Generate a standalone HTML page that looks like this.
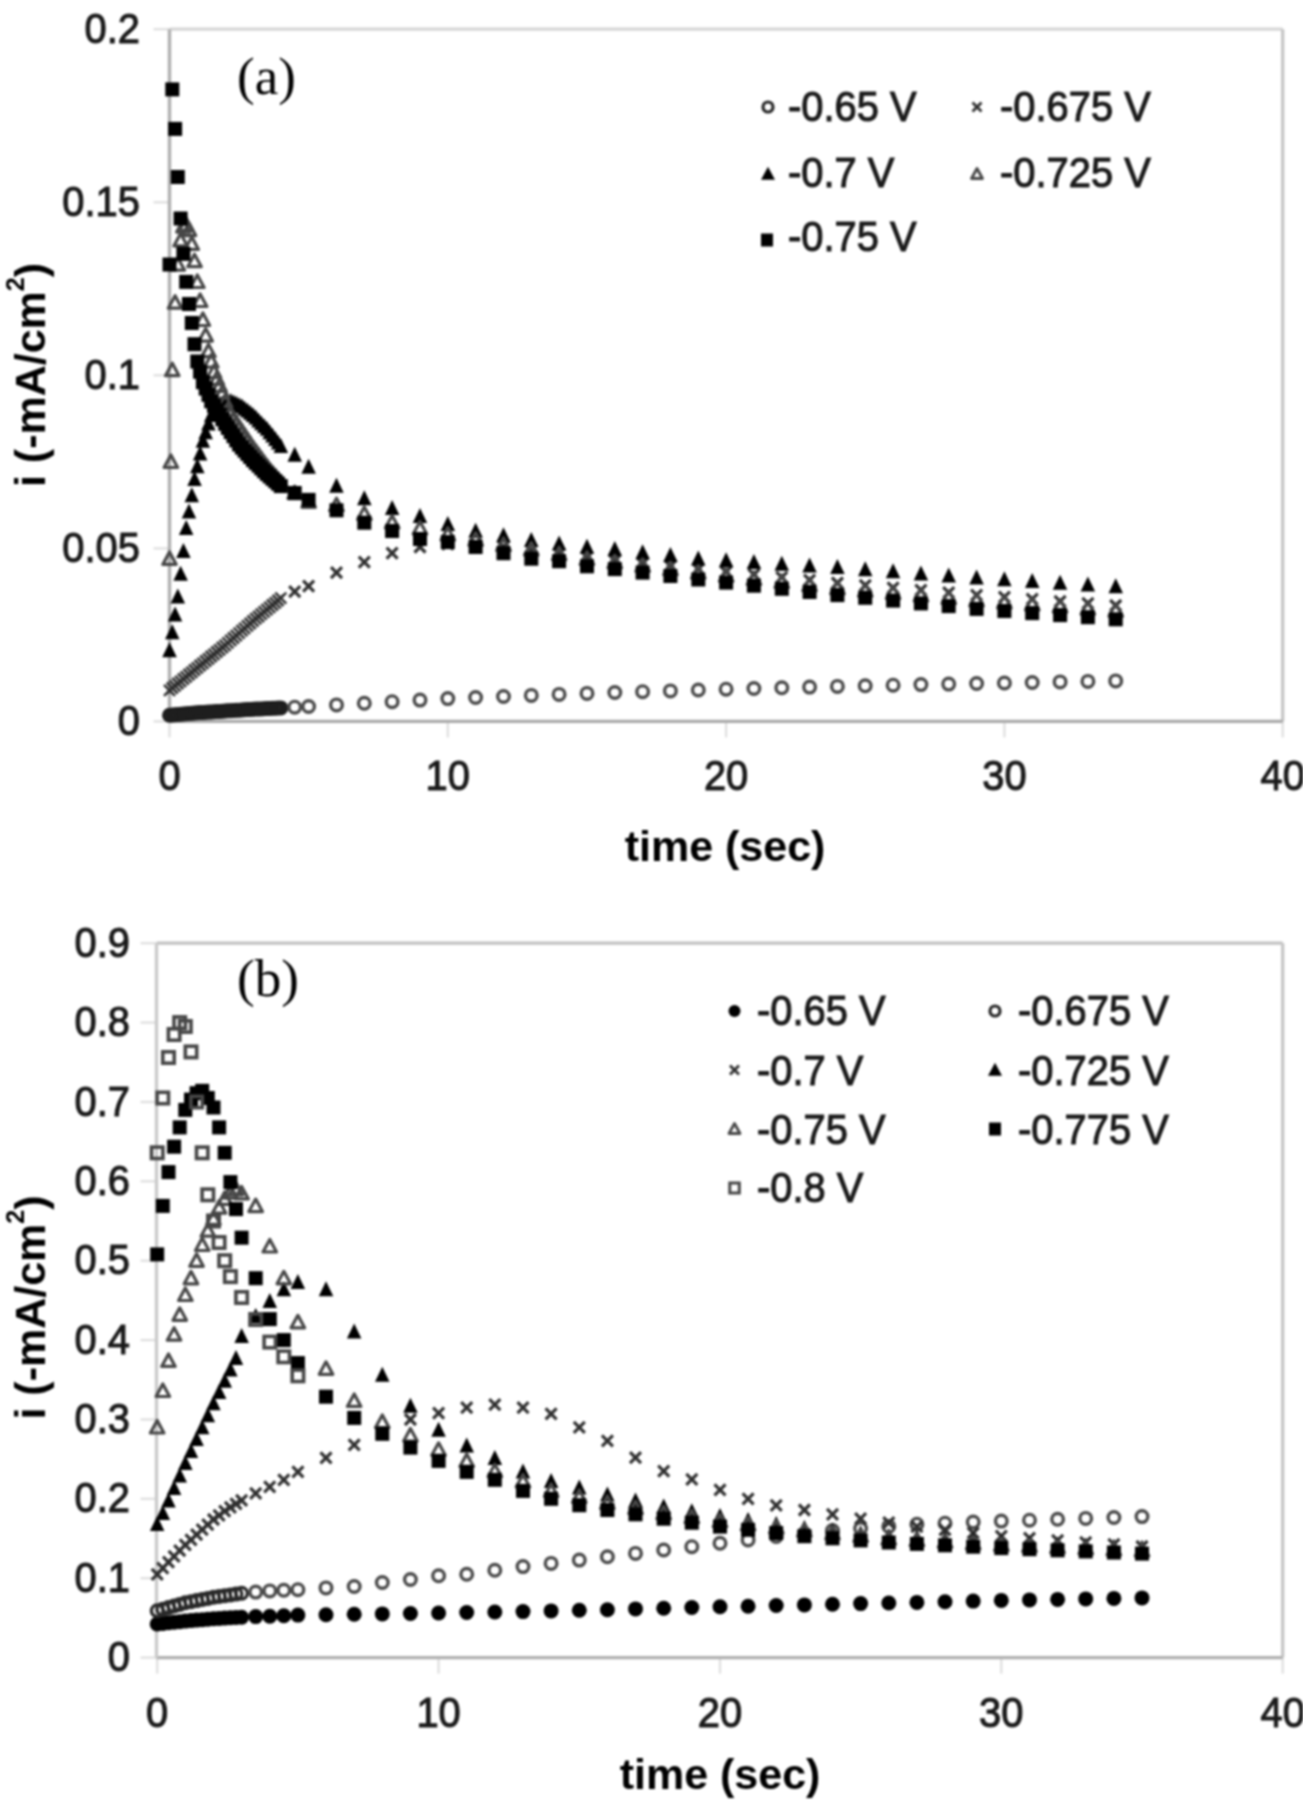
<!DOCTYPE html>
<html><head><meta charset="utf-8"><title>chart</title>
<style>
html,body{margin:0;padding:0;background:#fff;}
body{width:1303px;height:1800px;overflow:hidden;}
svg{display:block;filter:blur(1.0px);}
</style></head>
<body>
<svg width="1303" height="1800" viewBox="0 0 1303 1800"><rect width="1303" height="1800" fill="#fff"/><line x1="169.5" y1="29.2" x2="1282.7" y2="29.2" stroke="#d6d6d6" stroke-width="3.2"/><line x1="1282.7" y1="29.2" x2="1282.7" y2="721.4" stroke="#c4c4c4" stroke-width="3.2"/><line x1="153.5" y1="721.4" x2="169.5" y2="721.4" stroke="#dedede" stroke-width="2.2"/><line x1="153.5" y1="548.4" x2="169.5" y2="548.4" stroke="#dedede" stroke-width="2.2"/><line x1="153.5" y1="375.3" x2="169.5" y2="375.3" stroke="#dedede" stroke-width="2.2"/><line x1="153.5" y1="202.3" x2="169.5" y2="202.3" stroke="#dedede" stroke-width="2.2"/><line x1="153.5" y1="29.2" x2="169.5" y2="29.2" stroke="#dedede" stroke-width="2.2"/><line x1="169.5" y1="721.4" x2="169.5" y2="737.4" stroke="#dedede" stroke-width="2.2"/><line x1="447.8" y1="721.4" x2="447.8" y2="737.4" stroke="#dedede" stroke-width="2.2"/><line x1="726.1" y1="721.4" x2="726.1" y2="737.4" stroke="#dedede" stroke-width="2.2"/><line x1="1004.4" y1="721.4" x2="1004.4" y2="737.4" stroke="#dedede" stroke-width="2.2"/><line x1="1282.7" y1="721.4" x2="1282.7" y2="737.4" stroke="#dedede" stroke-width="2.2"/><line x1="169.5" y1="721.4" x2="1282.7" y2="721.4" stroke="#aaaaaa" stroke-width="3.4"/><line x1="169.5" y1="29.2" x2="169.5" y2="721.4" stroke="#b0b0b0" stroke-width="3.4"/><text transform="translate(140,734.9) scale(0.95,1)" text-anchor="end" fill="#1a1a1a" stroke="#1a1a1a" stroke-width="1.1" style="font-family:&quot;Liberation Sans&quot;,sans-serif;font-size:42px">0</text><text transform="translate(140,561.9) scale(0.95,1)" text-anchor="end" fill="#1a1a1a" stroke="#1a1a1a" stroke-width="1.1" style="font-family:&quot;Liberation Sans&quot;,sans-serif;font-size:42px">0.05</text><text transform="translate(140,388.8) scale(0.95,1)" text-anchor="end" fill="#1a1a1a" stroke="#1a1a1a" stroke-width="1.1" style="font-family:&quot;Liberation Sans&quot;,sans-serif;font-size:42px">0.1</text><text transform="translate(140,215.8) scale(0.95,1)" text-anchor="end" fill="#1a1a1a" stroke="#1a1a1a" stroke-width="1.1" style="font-family:&quot;Liberation Sans&quot;,sans-serif;font-size:42px">0.15</text><text transform="translate(140,42.7) scale(0.95,1)" text-anchor="end" fill="#1a1a1a" stroke="#1a1a1a" stroke-width="1.1" style="font-family:&quot;Liberation Sans&quot;,sans-serif;font-size:42px">0.2</text><text transform="translate(169.5,790) scale(0.95,1)" text-anchor="middle" fill="#1a1a1a" stroke="#1a1a1a" stroke-width="1.1" style="font-family:&quot;Liberation Sans&quot;,sans-serif;font-size:42px">0</text><text transform="translate(447.8,790) scale(0.95,1)" text-anchor="middle" fill="#1a1a1a" stroke="#1a1a1a" stroke-width="1.1" style="font-family:&quot;Liberation Sans&quot;,sans-serif;font-size:42px">10</text><text transform="translate(726.1,790) scale(0.95,1)" text-anchor="middle" fill="#1a1a1a" stroke="#1a1a1a" stroke-width="1.1" style="font-family:&quot;Liberation Sans&quot;,sans-serif;font-size:42px">20</text><text transform="translate(1004.4,790) scale(0.95,1)" text-anchor="middle" fill="#1a1a1a" stroke="#1a1a1a" stroke-width="1.1" style="font-family:&quot;Liberation Sans&quot;,sans-serif;font-size:42px">30</text><text transform="translate(1282.7,790) scale(0.95,1)" text-anchor="middle" fill="#1a1a1a" stroke="#1a1a1a" stroke-width="1.1" style="font-family:&quot;Liberation Sans&quot;,sans-serif;font-size:42px">40</text><g><circle cx="169.5" cy="715.2" r="5.8" fill="none" stroke="#1e1e1e" stroke-width="3.4"/><circle cx="172.3" cy="714.9" r="5.8" fill="none" stroke="#1e1e1e" stroke-width="3.4"/><circle cx="175.1" cy="714.7" r="5.8" fill="none" stroke="#1e1e1e" stroke-width="3.4"/><circle cx="177.8" cy="714.4" r="5.8" fill="none" stroke="#1e1e1e" stroke-width="3.4"/><circle cx="180.6" cy="714.2" r="5.8" fill="none" stroke="#1e1e1e" stroke-width="3.4"/><circle cx="183.4" cy="714.0" r="5.8" fill="none" stroke="#1e1e1e" stroke-width="3.4"/><circle cx="186.2" cy="713.7" r="5.8" fill="none" stroke="#1e1e1e" stroke-width="3.4"/><circle cx="189.0" cy="713.5" r="5.8" fill="none" stroke="#1e1e1e" stroke-width="3.4"/><circle cx="191.8" cy="713.2" r="5.8" fill="none" stroke="#1e1e1e" stroke-width="3.4"/><circle cx="194.5" cy="713.0" r="5.8" fill="none" stroke="#1e1e1e" stroke-width="3.4"/><circle cx="197.3" cy="712.7" r="5.8" fill="none" stroke="#1e1e1e" stroke-width="3.4"/><circle cx="200.1" cy="712.6" r="5.8" fill="none" stroke="#1e1e1e" stroke-width="3.4"/><circle cx="202.9" cy="712.4" r="5.8" fill="none" stroke="#1e1e1e" stroke-width="3.4"/><circle cx="205.7" cy="712.2" r="5.8" fill="none" stroke="#1e1e1e" stroke-width="3.4"/><circle cx="208.5" cy="712.1" r="5.8" fill="none" stroke="#1e1e1e" stroke-width="3.4"/><circle cx="211.2" cy="711.9" r="5.8" fill="none" stroke="#1e1e1e" stroke-width="3.4"/><circle cx="214.0" cy="711.7" r="5.8" fill="none" stroke="#1e1e1e" stroke-width="3.4"/><circle cx="216.8" cy="711.5" r="5.8" fill="none" stroke="#1e1e1e" stroke-width="3.4"/><circle cx="219.6" cy="711.4" r="5.8" fill="none" stroke="#1e1e1e" stroke-width="3.4"/><circle cx="222.4" cy="711.2" r="5.8" fill="none" stroke="#1e1e1e" stroke-width="3.4"/><circle cx="225.2" cy="711.0" r="5.8" fill="none" stroke="#1e1e1e" stroke-width="3.4"/><circle cx="227.9" cy="710.8" r="5.8" fill="none" stroke="#1e1e1e" stroke-width="3.4"/><circle cx="230.7" cy="710.7" r="5.8" fill="none" stroke="#1e1e1e" stroke-width="3.4"/><circle cx="233.5" cy="710.5" r="5.8" fill="none" stroke="#1e1e1e" stroke-width="3.4"/><circle cx="236.3" cy="710.3" r="5.8" fill="none" stroke="#1e1e1e" stroke-width="3.4"/><circle cx="239.1" cy="710.2" r="5.8" fill="none" stroke="#1e1e1e" stroke-width="3.4"/><circle cx="241.9" cy="710.0" r="5.8" fill="none" stroke="#1e1e1e" stroke-width="3.4"/><circle cx="244.6" cy="709.8" r="5.8" fill="none" stroke="#1e1e1e" stroke-width="3.4"/><circle cx="247.4" cy="709.6" r="5.8" fill="none" stroke="#1e1e1e" stroke-width="3.4"/><circle cx="250.2" cy="709.5" r="5.8" fill="none" stroke="#1e1e1e" stroke-width="3.4"/><circle cx="253.0" cy="709.3" r="5.8" fill="none" stroke="#1e1e1e" stroke-width="3.4"/><circle cx="255.8" cy="709.1" r="5.8" fill="none" stroke="#1e1e1e" stroke-width="3.4"/><circle cx="258.6" cy="709.0" r="5.8" fill="none" stroke="#1e1e1e" stroke-width="3.4"/><circle cx="261.3" cy="708.9" r="5.8" fill="none" stroke="#1e1e1e" stroke-width="3.4"/><circle cx="264.1" cy="708.7" r="5.8" fill="none" stroke="#1e1e1e" stroke-width="3.4"/><circle cx="266.9" cy="708.6" r="5.8" fill="none" stroke="#1e1e1e" stroke-width="3.4"/><circle cx="269.7" cy="708.5" r="5.8" fill="none" stroke="#1e1e1e" stroke-width="3.4"/><circle cx="272.5" cy="708.3" r="5.8" fill="none" stroke="#1e1e1e" stroke-width="3.4"/><circle cx="275.3" cy="708.2" r="5.8" fill="none" stroke="#1e1e1e" stroke-width="3.4"/><circle cx="278.0" cy="708.0" r="5.8" fill="none" stroke="#1e1e1e" stroke-width="3.4"/><circle cx="280.8" cy="707.9" r="5.8" fill="none" stroke="#1e1e1e" stroke-width="3.4"/><circle cx="294.7" cy="707.2" r="5.8" fill="none" stroke="#4a4a4a" stroke-width="3.4"/><circle cx="308.6" cy="706.5" r="5.8" fill="none" stroke="#4a4a4a" stroke-width="3.4"/><circle cx="336.5" cy="704.9" r="5.8" fill="none" stroke="#4a4a4a" stroke-width="3.4"/><circle cx="364.3" cy="703.3" r="5.8" fill="none" stroke="#4a4a4a" stroke-width="3.4"/><circle cx="392.1" cy="701.7" r="5.8" fill="none" stroke="#4a4a4a" stroke-width="3.4"/><circle cx="420.0" cy="700.1" r="5.8" fill="none" stroke="#4a4a4a" stroke-width="3.4"/><circle cx="447.8" cy="698.6" r="5.8" fill="none" stroke="#4a4a4a" stroke-width="3.4"/><circle cx="475.6" cy="697.5" r="5.8" fill="none" stroke="#4a4a4a" stroke-width="3.4"/><circle cx="503.5" cy="696.5" r="5.8" fill="none" stroke="#4a4a4a" stroke-width="3.4"/><circle cx="531.3" cy="695.4" r="5.8" fill="none" stroke="#4a4a4a" stroke-width="3.4"/><circle cx="559.1" cy="694.4" r="5.8" fill="none" stroke="#4a4a4a" stroke-width="3.4"/><circle cx="587.0" cy="693.4" r="5.8" fill="none" stroke="#4a4a4a" stroke-width="3.4"/><circle cx="614.8" cy="692.5" r="5.8" fill="none" stroke="#4a4a4a" stroke-width="3.4"/><circle cx="642.6" cy="691.7" r="5.8" fill="none" stroke="#4a4a4a" stroke-width="3.4"/><circle cx="670.4" cy="690.9" r="5.8" fill="none" stroke="#4a4a4a" stroke-width="3.4"/><circle cx="698.3" cy="690.0" r="5.8" fill="none" stroke="#4a4a4a" stroke-width="3.4"/><circle cx="726.1" cy="689.2" r="5.8" fill="none" stroke="#4a4a4a" stroke-width="3.4"/><circle cx="753.9" cy="688.5" r="5.8" fill="none" stroke="#4a4a4a" stroke-width="3.4"/><circle cx="781.8" cy="687.8" r="5.8" fill="none" stroke="#4a4a4a" stroke-width="3.4"/><circle cx="809.6" cy="687.1" r="5.8" fill="none" stroke="#4a4a4a" stroke-width="3.4"/><circle cx="837.4" cy="686.4" r="5.8" fill="none" stroke="#4a4a4a" stroke-width="3.4"/><circle cx="865.2" cy="685.8" r="5.8" fill="none" stroke="#4a4a4a" stroke-width="3.4"/><circle cx="893.1" cy="685.2" r="5.8" fill="none" stroke="#4a4a4a" stroke-width="3.4"/><circle cx="920.9" cy="684.6" r="5.8" fill="none" stroke="#4a4a4a" stroke-width="3.4"/><circle cx="948.7" cy="684.1" r="5.8" fill="none" stroke="#4a4a4a" stroke-width="3.4"/><circle cx="976.6" cy="683.5" r="5.8" fill="none" stroke="#4a4a4a" stroke-width="3.4"/><circle cx="1004.4" cy="683.0" r="5.8" fill="none" stroke="#4a4a4a" stroke-width="3.4"/><circle cx="1032.2" cy="682.5" r="5.8" fill="none" stroke="#4a4a4a" stroke-width="3.4"/><circle cx="1060.1" cy="681.9" r="5.8" fill="none" stroke="#4a4a4a" stroke-width="3.4"/><circle cx="1087.9" cy="681.4" r="5.8" fill="none" stroke="#4a4a4a" stroke-width="3.4"/><circle cx="1115.7" cy="680.9" r="5.8" fill="none" stroke="#4a4a4a" stroke-width="3.4"/><path d="M164.0 684.8L175.0 695.8M175.0 684.8L164.0 695.8" stroke="#303030" stroke-width="2.5" fill="none"/><path d="M166.8 682.5L177.8 693.5M177.8 682.5L166.8 693.5" stroke="#303030" stroke-width="2.5" fill="none"/><path d="M169.6 680.3L180.6 691.3M180.6 680.3L169.6 691.3" stroke="#303030" stroke-width="2.5" fill="none"/><path d="M172.3 678.0L183.3 689.0M183.3 678.0L172.3 689.0" stroke="#303030" stroke-width="2.5" fill="none"/><path d="M175.1 675.8L186.1 686.8M186.1 675.8L175.1 686.8" stroke="#303030" stroke-width="2.5" fill="none"/><path d="M177.9 673.5L188.9 684.5M188.9 673.5L177.9 684.5" stroke="#303030" stroke-width="2.5" fill="none"/><path d="M180.7 671.3L191.7 682.3M191.7 671.3L180.7 682.3" stroke="#303030" stroke-width="2.5" fill="none"/><path d="M183.5 669.0L194.5 680.0M194.5 669.0L183.5 680.0" stroke="#303030" stroke-width="2.5" fill="none"/><path d="M186.3 666.8L197.3 677.8M197.3 666.8L186.3 677.8" stroke="#303030" stroke-width="2.5" fill="none"/><path d="M189.0 664.5L200.0 675.5M200.0 664.5L189.0 675.5" stroke="#303030" stroke-width="2.5" fill="none"/><path d="M191.8 662.3L202.8 673.3M202.8 662.3L191.8 673.3" stroke="#303030" stroke-width="2.5" fill="none"/><path d="M194.6 660.0L205.6 671.0M205.6 660.0L194.6 671.0" stroke="#303030" stroke-width="2.5" fill="none"/><path d="M197.4 657.8L208.4 668.8M208.4 657.8L197.4 668.8" stroke="#303030" stroke-width="2.5" fill="none"/><path d="M200.2 655.5L211.2 666.5M211.2 655.5L200.2 666.5" stroke="#303030" stroke-width="2.5" fill="none"/><path d="M203.0 653.3L214.0 664.3M214.0 653.3L203.0 664.3" stroke="#303030" stroke-width="2.5" fill="none"/><path d="M205.7 651.0L216.7 662.0M216.7 651.0L205.7 662.0" stroke="#303030" stroke-width="2.5" fill="none"/><path d="M208.5 648.8L219.5 659.8M219.5 648.8L208.5 659.8" stroke="#303030" stroke-width="2.5" fill="none"/><path d="M211.3 646.5L222.3 657.5M222.3 646.5L211.3 657.5" stroke="#303030" stroke-width="2.5" fill="none"/><path d="M214.1 644.3L225.1 655.3M225.1 644.3L214.1 655.3" stroke="#303030" stroke-width="2.5" fill="none"/><path d="M216.9 642.0L227.9 653.0M227.9 642.0L216.9 653.0" stroke="#303030" stroke-width="2.5" fill="none"/><path d="M219.7 639.8L230.7 650.8M230.7 639.8L219.7 650.8" stroke="#303030" stroke-width="2.5" fill="none"/><path d="M222.4 637.3L233.4 648.3M233.4 637.3L222.4 648.3" stroke="#303030" stroke-width="2.5" fill="none"/><path d="M225.2 634.9L236.2 645.9M236.2 634.9L225.2 645.9" stroke="#303030" stroke-width="2.5" fill="none"/><path d="M228.0 632.5L239.0 643.5M239.0 632.5L228.0 643.5" stroke="#303030" stroke-width="2.5" fill="none"/><path d="M230.8 630.1L241.8 641.1M241.8 630.1L230.8 641.1" stroke="#303030" stroke-width="2.5" fill="none"/><path d="M233.6 627.6L244.6 638.6M244.6 627.6L233.6 638.6" stroke="#303030" stroke-width="2.5" fill="none"/><path d="M236.4 625.2L247.4 636.2M247.4 625.2L236.4 636.2" stroke="#303030" stroke-width="2.5" fill="none"/><path d="M239.1 622.8L250.1 633.8M250.1 622.8L239.1 633.8" stroke="#303030" stroke-width="2.5" fill="none"/><path d="M241.9 620.4L252.9 631.4M252.9 620.4L241.9 631.4" stroke="#303030" stroke-width="2.5" fill="none"/><path d="M244.7 618.0L255.7 629.0M255.7 618.0L244.7 629.0" stroke="#303030" stroke-width="2.5" fill="none"/><path d="M247.5 615.5L258.5 626.5M258.5 615.5L247.5 626.5" stroke="#303030" stroke-width="2.5" fill="none"/><path d="M250.3 613.2L261.3 624.2M261.3 613.2L250.3 624.2" stroke="#303030" stroke-width="2.5" fill="none"/><path d="M253.1 611.0L264.1 622.0M264.1 611.0L253.1 622.0" stroke="#303030" stroke-width="2.5" fill="none"/><path d="M255.8 608.7L266.8 619.7M266.8 608.7L255.8 619.7" stroke="#303030" stroke-width="2.5" fill="none"/><path d="M258.6 606.4L269.6 617.4M269.6 606.4L258.6 617.4" stroke="#303030" stroke-width="2.5" fill="none"/><path d="M261.4 604.1L272.4 615.1M272.4 604.1L261.4 615.1" stroke="#303030" stroke-width="2.5" fill="none"/><path d="M264.2 601.8L275.2 612.8M275.2 601.8L264.2 612.8" stroke="#303030" stroke-width="2.5" fill="none"/><path d="M267.0 599.5L278.0 610.5M278.0 599.5L267.0 610.5" stroke="#303030" stroke-width="2.5" fill="none"/><path d="M269.8 597.3L280.8 608.3M280.8 597.3L269.8 608.3" stroke="#303030" stroke-width="2.5" fill="none"/><path d="M272.5 595.0L283.5 606.0M283.5 595.0L272.5 606.0" stroke="#303030" stroke-width="2.5" fill="none"/><path d="M275.3 592.7L286.3 603.7M286.3 592.7L275.3 603.7" stroke="#303030" stroke-width="2.5" fill="none"/><path d="M289.2 586.1L300.2 597.1M300.2 586.1L289.2 597.1" stroke="#303030" stroke-width="3.2" fill="none"/><path d="M303.1 580.6L314.1 591.6M314.1 580.6L303.1 591.6" stroke="#303030" stroke-width="3.2" fill="none"/><path d="M331.0 567.1L342.0 578.1M342.0 567.1L331.0 578.1" stroke="#303030" stroke-width="3.2" fill="none"/><path d="M358.8 556.7L369.8 567.7M369.8 556.7L358.8 567.7" stroke="#303030" stroke-width="3.2" fill="none"/><path d="M386.6 547.7L397.6 558.7M397.6 547.7L386.6 558.7" stroke="#303030" stroke-width="3.2" fill="none"/><path d="M414.5 541.5L425.5 552.5M425.5 541.5L414.5 552.5" stroke="#303030" stroke-width="3.2" fill="none"/><path d="M442.3 538.7L453.3 549.7M453.3 538.7L442.3 549.7" stroke="#303030" stroke-width="3.2" fill="none"/><path d="M470.1 538.7L481.1 549.7M481.1 538.7L470.1 549.7" stroke="#303030" stroke-width="3.2" fill="none"/><path d="M498.0 541.1L509.0 552.1M509.0 541.1L498.0 552.1" stroke="#303030" stroke-width="3.2" fill="none"/><path d="M525.8 544.6L536.8 555.6M536.8 544.6L525.8 555.6" stroke="#303030" stroke-width="3.2" fill="none"/><path d="M553.6 548.0L564.6 559.0M564.6 548.0L553.6 559.0" stroke="#303030" stroke-width="3.2" fill="none"/><path d="M581.5 551.5L592.5 562.5M592.5 551.5L581.5 562.5" stroke="#303030" stroke-width="3.2" fill="none"/><path d="M609.3 555.0L620.3 566.0M620.3 555.0L609.3 566.0" stroke="#303030" stroke-width="3.2" fill="none"/><path d="M637.1 557.8L648.1 568.8M648.1 557.8L637.1 568.8" stroke="#303030" stroke-width="3.2" fill="none"/><path d="M664.9 560.7L675.9 571.7M675.9 560.7L664.9 571.7" stroke="#303030" stroke-width="3.2" fill="none"/><path d="M692.8 563.6L703.8 574.6M703.8 563.6L692.8 574.6" stroke="#303030" stroke-width="3.2" fill="none"/><path d="M720.6 566.4L731.6 577.4M731.6 566.4L720.6 577.4" stroke="#303030" stroke-width="3.2" fill="none"/><path d="M748.4 569.2L759.4 580.2M759.4 569.2L748.4 580.2" stroke="#303030" stroke-width="3.2" fill="none"/><path d="M776.3 571.9L787.3 582.9M787.3 571.9L776.3 582.9" stroke="#303030" stroke-width="3.2" fill="none"/><path d="M804.1 574.7L815.1 585.7M815.1 574.7L804.1 585.7" stroke="#303030" stroke-width="3.2" fill="none"/><path d="M831.9 577.5L842.9 588.5M842.9 577.5L831.9 588.5" stroke="#303030" stroke-width="3.2" fill="none"/><path d="M859.8 579.9L870.8 590.9M870.8 579.9L859.8 590.9" stroke="#303030" stroke-width="3.2" fill="none"/><path d="M887.6 582.3L898.6 593.3M898.6 582.3L887.6 593.3" stroke="#303030" stroke-width="3.2" fill="none"/><path d="M915.4 584.7L926.4 595.7M926.4 584.7L915.4 595.7" stroke="#303030" stroke-width="3.2" fill="none"/><path d="M943.2 587.2L954.2 598.2M954.2 587.2L943.2 598.2" stroke="#303030" stroke-width="3.2" fill="none"/><path d="M971.1 589.6L982.1 600.6M982.1 589.6L971.1 600.6" stroke="#303030" stroke-width="3.2" fill="none"/><path d="M998.9 591.7L1009.9 602.7M1009.9 591.7L998.9 602.7" stroke="#303030" stroke-width="3.2" fill="none"/><path d="M1026.7 593.7L1037.7 604.7M1037.7 593.7L1026.7 604.7" stroke="#303030" stroke-width="3.2" fill="none"/><path d="M1054.6 595.8L1065.6 606.8M1065.6 595.8L1054.6 606.8" stroke="#303030" stroke-width="3.2" fill="none"/><path d="M1082.4 597.9L1093.4 608.9M1093.4 597.9L1082.4 608.9" stroke="#303030" stroke-width="3.2" fill="none"/><path d="M1110.2 600.0L1121.2 611.0M1121.2 600.0L1110.2 611.0" stroke="#303030" stroke-width="3.2" fill="none"/><path d="M169.5 642.2L176.8 657.2L162.2 657.2Z" fill="#000"/><path d="M172.3 624.3L179.5 639.3L165.0 639.3Z" fill="#000"/><path d="M175.1 606.4L182.3 621.4L167.8 621.4Z" fill="#000"/><path d="M177.8 588.6L185.1 603.6L170.6 603.6Z" fill="#000"/><path d="M180.6 565.7L187.9 580.7L173.4 580.7Z" fill="#000"/><path d="M183.4 542.9L190.7 557.9L176.2 557.9Z" fill="#000"/><path d="M186.2 520.0L193.4 535.0L178.9 535.0Z" fill="#000"/><path d="M189.0 503.6L196.2 518.6L181.7 518.6Z" fill="#000"/><path d="M191.8 487.3L199.0 502.3L184.5 502.3Z" fill="#000"/><path d="M194.5 470.9L201.8 485.9L187.3 485.9Z" fill="#000"/><path d="M197.3 458.2L204.6 473.2L190.1 473.2Z" fill="#000"/><path d="M200.1 445.5L207.4 460.5L192.9 460.5Z" fill="#000"/><path d="M202.9 432.8L210.1 447.8L195.6 447.8Z" fill="#000"/><path d="M205.7 424.2L212.9 439.2L198.4 439.2Z" fill="#000"/><path d="M208.5 415.5L215.7 430.5L201.2 430.5Z" fill="#000"/><path d="M211.2 406.9L218.5 421.9L204.0 421.9Z" fill="#000"/><path d="M214.0 403.4L221.3 418.4L206.8 418.4Z" fill="#000"/><path d="M216.8 399.9L224.1 414.9L209.6 414.9Z" fill="#000"/><path d="M219.6 396.5L226.8 411.5L212.3 411.5Z" fill="#000"/><path d="M222.4 395.6L229.6 410.6L215.1 410.6Z" fill="#000"/><path d="M225.2 394.7L232.4 409.7L217.9 409.7Z" fill="#000"/><path d="M227.9 393.9L235.2 408.9L220.7 408.9Z" fill="#000"/><path d="M230.7 393.0L238.0 408.0L223.5 408.0Z" fill="#000"/><path d="M233.5 394.3L240.8 409.3L226.3 409.3Z" fill="#000"/><path d="M236.3 395.6L243.5 410.6L229.0 410.6Z" fill="#000"/><path d="M239.1 396.9L246.3 411.9L231.8 411.9Z" fill="#000"/><path d="M241.9 398.2L249.1 413.2L234.6 413.2Z" fill="#000"/><path d="M244.6 400.4L251.9 415.4L237.4 415.4Z" fill="#000"/><path d="M247.4 402.5L254.7 417.5L240.2 417.5Z" fill="#000"/><path d="M250.2 404.7L257.5 419.7L243.0 419.7Z" fill="#000"/><path d="M253.0 406.9L260.2 421.9L245.7 421.9Z" fill="#000"/><path d="M255.8 409.6L263.0 424.6L248.5 424.6Z" fill="#000"/><path d="M258.6 412.4L265.8 427.4L251.3 427.4Z" fill="#000"/><path d="M261.3 415.2L268.6 430.2L254.1 430.2Z" fill="#000"/><path d="M264.1 417.9L271.4 432.9L256.9 432.9Z" fill="#000"/><path d="M266.9 420.7L274.2 435.7L259.7 435.7Z" fill="#000"/><path d="M269.7 424.2L276.9 439.2L262.4 439.2Z" fill="#000"/><path d="M272.5 427.6L279.7 442.6L265.2 442.6Z" fill="#000"/><path d="M275.3 431.1L282.5 446.1L268.0 446.1Z" fill="#000"/><path d="M278.0 434.5L285.3 449.5L270.8 449.5Z" fill="#000"/><path d="M280.8 438.0L288.1 453.0L273.6 453.0Z" fill="#000"/><path d="M294.7 446.7L302.0 461.7L287.5 461.7Z" fill="#000"/><path d="M308.6 458.8L315.9 473.8L301.4 473.8Z" fill="#000"/><path d="M336.5 477.8L343.7 492.8L329.2 492.8Z" fill="#000"/><path d="M364.3 490.3L371.6 505.3L357.1 505.3Z" fill="#000"/><path d="M392.1 500.0L399.4 515.0L384.9 515.0Z" fill="#000"/><path d="M420.0 507.9L427.2 522.9L412.7 522.9Z" fill="#000"/><path d="M447.8 515.9L455.1 530.9L440.6 530.9Z" fill="#000"/><path d="M475.6 522.8L482.9 537.8L468.4 537.8Z" fill="#000"/><path d="M503.5 527.3L510.7 542.3L496.2 542.3Z" fill="#000"/><path d="M531.3 532.1L538.5 547.1L524.0 547.1Z" fill="#000"/><path d="M559.1 535.6L566.4 550.6L551.9 550.6Z" fill="#000"/><path d="M587.0 538.7L594.2 553.7L579.7 553.7Z" fill="#000"/><path d="M614.8 541.1L622.0 556.1L607.5 556.1Z" fill="#000"/><path d="M642.6 544.3L649.9 559.3L635.4 559.3Z" fill="#000"/><path d="M670.4 547.0L677.7 562.0L663.2 562.0Z" fill="#000"/><path d="M698.3 550.5L705.5 565.5L691.0 565.5Z" fill="#000"/><path d="M726.1 552.2L733.4 567.2L718.9 567.2Z" fill="#000"/><path d="M753.9 553.9L761.2 568.9L746.7 568.9Z" fill="#000"/><path d="M781.8 555.7L789.0 570.7L774.5 570.7Z" fill="#000"/><path d="M809.6 557.4L816.8 572.4L802.3 572.4Z" fill="#000"/><path d="M837.4 559.1L844.7 574.1L830.2 574.1Z" fill="#000"/><path d="M865.2 561.2L872.5 576.2L858.0 576.2Z" fill="#000"/><path d="M893.1 563.3L900.3 578.3L885.8 578.3Z" fill="#000"/><path d="M920.9 565.4L928.2 580.4L913.7 580.4Z" fill="#000"/><path d="M948.7 567.4L956.0 582.4L941.5 582.4Z" fill="#000"/><path d="M976.6 569.5L983.8 584.5L969.3 584.5Z" fill="#000"/><path d="M1004.4 571.2L1011.6 586.2L997.1 586.2Z" fill="#000"/><path d="M1032.2 573.0L1039.5 588.0L1025.0 588.0Z" fill="#000"/><path d="M1060.1 574.7L1067.3 589.7L1052.8 589.7Z" fill="#000"/><path d="M1087.9 576.4L1095.1 591.4L1080.6 591.4Z" fill="#000"/><path d="M1115.7 578.2L1123.0 593.2L1108.5 593.2Z" fill="#000"/><path d="M169.5 551.9L176.2 564.4L162.8 564.4Z" fill="none" stroke="#474747" stroke-width="3.2" stroke-linejoin="round"/><path d="M172.3 363.2L179.0 375.7L165.5 375.7Z" fill="none" stroke="#474747" stroke-width="3.2" stroke-linejoin="round"/><path d="M175.1 295.7L181.8 308.2L168.3 308.2Z" fill="none" stroke="#474747" stroke-width="3.2" stroke-linejoin="round"/><path d="M177.8 257.7L184.6 270.2L171.1 270.2Z" fill="none" stroke="#474747" stroke-width="3.2" stroke-linejoin="round"/><path d="M180.6 233.4L187.4 245.9L173.9 245.9Z" fill="none" stroke="#474747" stroke-width="3.2" stroke-linejoin="round"/><path d="M183.4 219.6L190.2 232.1L176.7 232.1Z" fill="none" stroke="#474747" stroke-width="3.2" stroke-linejoin="round"/><path d="M186.2 217.9L192.9 230.4L179.4 230.4Z" fill="none" stroke="#474747" stroke-width="3.2" stroke-linejoin="round"/><path d="M189.0 223.1L195.7 235.6L182.2 235.6Z" fill="none" stroke="#474747" stroke-width="3.2" stroke-linejoin="round"/><path d="M191.8 236.9L198.5 249.4L185.0 249.4Z" fill="none" stroke="#474747" stroke-width="3.2" stroke-linejoin="round"/><path d="M194.5 254.2L201.3 266.7L187.8 266.7Z" fill="none" stroke="#474747" stroke-width="3.2" stroke-linejoin="round"/><path d="M197.3 275.0L204.1 287.5L190.6 287.5Z" fill="none" stroke="#474747" stroke-width="3.2" stroke-linejoin="round"/><path d="M200.1 294.0L206.9 306.5L193.4 306.5Z" fill="none" stroke="#474747" stroke-width="3.2" stroke-linejoin="round"/><path d="M202.9 313.0L209.6 325.5L196.1 325.5Z" fill="none" stroke="#474747" stroke-width="3.2" stroke-linejoin="round"/><path d="M205.7 328.6L212.4 341.1L198.9 341.1Z" fill="none" stroke="#474747" stroke-width="3.2" stroke-linejoin="round"/><path d="M208.5 344.2L215.2 356.7L201.7 356.7Z" fill="none" stroke="#474747" stroke-width="3.2" stroke-linejoin="round"/><path d="M211.2 354.6L218.0 367.1L204.5 367.1Z" fill="none" stroke="#474747" stroke-width="3.2" stroke-linejoin="round"/><path d="M214.0 365.0L220.8 377.5L207.3 377.5Z" fill="none" stroke="#474747" stroke-width="3.2" stroke-linejoin="round"/><path d="M216.8 371.9L223.6 384.4L210.1 384.4Z" fill="none" stroke="#474747" stroke-width="3.2" stroke-linejoin="round"/><path d="M219.6 378.8L226.3 391.3L212.8 391.3Z" fill="none" stroke="#474747" stroke-width="3.2" stroke-linejoin="round"/><path d="M222.4 385.7L229.1 398.2L215.6 398.2Z" fill="none" stroke="#474747" stroke-width="3.2" stroke-linejoin="round"/><path d="M225.2 394.4L231.9 406.9L218.4 406.9Z" fill="none" stroke="#474747" stroke-width="3.2" stroke-linejoin="round"/><path d="M227.9 403.0L234.7 415.5L221.2 415.5Z" fill="none" stroke="#474747" stroke-width="3.2" stroke-linejoin="round"/><path d="M230.7 407.4L237.5 419.9L224.0 419.9Z" fill="none" stroke="#474747" stroke-width="3.2" stroke-linejoin="round"/><path d="M233.5 411.7L240.3 424.2L226.8 424.2Z" fill="none" stroke="#474747" stroke-width="3.2" stroke-linejoin="round"/><path d="M236.3 416.0L243.0 428.5L229.5 428.5Z" fill="none" stroke="#474747" stroke-width="3.2" stroke-linejoin="round"/><path d="M239.1 420.3L245.8 432.8L232.3 432.8Z" fill="none" stroke="#474747" stroke-width="3.2" stroke-linejoin="round"/><path d="M241.9 424.5L248.6 437.0L235.1 437.0Z" fill="none" stroke="#474747" stroke-width="3.2" stroke-linejoin="round"/><path d="M244.6 428.6L251.4 441.1L237.9 441.1Z" fill="none" stroke="#474747" stroke-width="3.2" stroke-linejoin="round"/><path d="M247.4 432.8L254.2 445.3L240.7 445.3Z" fill="none" stroke="#474747" stroke-width="3.2" stroke-linejoin="round"/><path d="M250.2 437.0L257.0 449.5L243.5 449.5Z" fill="none" stroke="#474747" stroke-width="3.2" stroke-linejoin="round"/><path d="M253.0 441.1L259.7 453.6L246.2 453.6Z" fill="none" stroke="#474747" stroke-width="3.2" stroke-linejoin="round"/><path d="M255.8 444.8L262.5 457.3L249.0 457.3Z" fill="none" stroke="#474747" stroke-width="3.2" stroke-linejoin="round"/><path d="M258.6 448.5L265.3 461.0L251.8 461.0Z" fill="none" stroke="#474747" stroke-width="3.2" stroke-linejoin="round"/><path d="M261.3 452.2L268.1 464.7L254.6 464.7Z" fill="none" stroke="#474747" stroke-width="3.2" stroke-linejoin="round"/><path d="M264.1 455.9L270.9 468.4L257.4 468.4Z" fill="none" stroke="#474747" stroke-width="3.2" stroke-linejoin="round"/><path d="M266.9 459.6L273.7 472.1L260.2 472.1Z" fill="none" stroke="#474747" stroke-width="3.2" stroke-linejoin="round"/><path d="M269.7 463.3L276.4 475.8L262.9 475.8Z" fill="none" stroke="#474747" stroke-width="3.2" stroke-linejoin="round"/><path d="M272.5 466.4L279.2 478.9L265.7 478.9Z" fill="none" stroke="#474747" stroke-width="3.2" stroke-linejoin="round"/><path d="M275.3 469.5L282.0 482.0L268.5 482.0Z" fill="none" stroke="#474747" stroke-width="3.2" stroke-linejoin="round"/><path d="M278.0 472.6L284.8 485.1L271.3 485.1Z" fill="none" stroke="#474747" stroke-width="3.2" stroke-linejoin="round"/><path d="M280.8 475.7L287.6 488.2L274.1 488.2Z" fill="none" stroke="#474747" stroke-width="3.2" stroke-linejoin="round"/><path d="M294.7 486.1L301.5 498.6L288.0 498.6Z" fill="none" stroke="#474747" stroke-width="3.2" stroke-linejoin="round"/><path d="M308.6 494.8L315.4 507.3L301.9 507.3Z" fill="none" stroke="#474747" stroke-width="3.2" stroke-linejoin="round"/><path d="M336.5 498.2L343.2 510.7L329.7 510.7Z" fill="none" stroke="#474747" stroke-width="3.2" stroke-linejoin="round"/><path d="M364.3 506.9L371.1 519.4L357.6 519.4Z" fill="none" stroke="#474747" stroke-width="3.2" stroke-linejoin="round"/><path d="M392.1 515.5L398.9 528.0L385.4 528.0Z" fill="none" stroke="#474747" stroke-width="3.2" stroke-linejoin="round"/><path d="M420.0 521.6L426.7 534.1L413.2 534.1Z" fill="none" stroke="#474747" stroke-width="3.2" stroke-linejoin="round"/><path d="M447.8 527.6L454.6 540.1L441.1 540.1Z" fill="none" stroke="#474747" stroke-width="3.2" stroke-linejoin="round"/><path d="M475.6 532.8L482.4 545.3L468.9 545.3Z" fill="none" stroke="#474747" stroke-width="3.2" stroke-linejoin="round"/><path d="M503.5 538.0L510.2 550.5L496.7 550.5Z" fill="none" stroke="#474747" stroke-width="3.2" stroke-linejoin="round"/><path d="M531.3 542.6L538.0 555.1L524.5 555.1Z" fill="none" stroke="#474747" stroke-width="3.2" stroke-linejoin="round"/><path d="M559.1 547.2L565.9 559.7L552.4 559.7Z" fill="none" stroke="#474747" stroke-width="3.2" stroke-linejoin="round"/><path d="M587.0 551.9L593.7 564.4L580.2 564.4Z" fill="none" stroke="#474747" stroke-width="3.2" stroke-linejoin="round"/><path d="M614.8 555.3L621.5 567.8L608.0 567.8Z" fill="none" stroke="#474747" stroke-width="3.2" stroke-linejoin="round"/><path d="M642.6 558.8L649.4 571.3L635.9 571.3Z" fill="none" stroke="#474747" stroke-width="3.2" stroke-linejoin="round"/><path d="M670.4 562.2L677.2 574.7L663.7 574.7Z" fill="none" stroke="#474747" stroke-width="3.2" stroke-linejoin="round"/><path d="M698.3 565.7L705.0 578.2L691.5 578.2Z" fill="none" stroke="#474747" stroke-width="3.2" stroke-linejoin="round"/><path d="M726.1 568.8L732.9 581.3L719.4 581.3Z" fill="none" stroke="#474747" stroke-width="3.2" stroke-linejoin="round"/><path d="M753.9 571.9L760.7 584.4L747.2 584.4Z" fill="none" stroke="#474747" stroke-width="3.2" stroke-linejoin="round"/><path d="M781.8 575.0L788.5 587.5L775.0 587.5Z" fill="none" stroke="#474747" stroke-width="3.2" stroke-linejoin="round"/><path d="M809.6 578.2L816.3 590.7L802.8 590.7Z" fill="none" stroke="#474747" stroke-width="3.2" stroke-linejoin="round"/><path d="M837.4 581.3L844.2 593.8L830.7 593.8Z" fill="none" stroke="#474747" stroke-width="3.2" stroke-linejoin="round"/><path d="M865.2 583.7L872.0 596.2L858.5 596.2Z" fill="none" stroke="#474747" stroke-width="3.2" stroke-linejoin="round"/><path d="M893.1 586.1L899.8 598.6L886.3 598.6Z" fill="none" stroke="#474747" stroke-width="3.2" stroke-linejoin="round"/><path d="M920.9 588.5L927.7 601.0L914.2 601.0Z" fill="none" stroke="#474747" stroke-width="3.2" stroke-linejoin="round"/><path d="M948.7 591.0L955.5 603.5L942.0 603.5Z" fill="none" stroke="#474747" stroke-width="3.2" stroke-linejoin="round"/><path d="M976.6 593.4L983.3 605.9L969.8 605.9Z" fill="none" stroke="#474747" stroke-width="3.2" stroke-linejoin="round"/><path d="M1004.4 595.5L1011.1 608.0L997.6 608.0Z" fill="none" stroke="#474747" stroke-width="3.2" stroke-linejoin="round"/><path d="M1032.2 597.5L1039.0 610.0L1025.5 610.0Z" fill="none" stroke="#474747" stroke-width="3.2" stroke-linejoin="round"/><path d="M1060.1 599.6L1066.8 612.1L1053.3 612.1Z" fill="none" stroke="#474747" stroke-width="3.2" stroke-linejoin="round"/><path d="M1087.9 601.7L1094.6 614.2L1081.1 614.2Z" fill="none" stroke="#474747" stroke-width="3.2" stroke-linejoin="round"/><path d="M1115.7 603.8L1122.5 616.3L1109.0 616.3Z" fill="none" stroke="#474747" stroke-width="3.2" stroke-linejoin="round"/><path d="M170.9 455.0L177.6 467.5L164.1 467.5Z" fill="none" stroke="#474747" stroke-width="3.2" stroke-linejoin="round"/><rect x="162.5" y="257.5" width="14.0" height="14.0" fill="#000"/><rect x="165.3" y="82.4" width="14.0" height="14.0" fill="#000"/><rect x="168.1" y="121.9" width="14.0" height="14.0" fill="#000"/><rect x="170.8" y="170.0" width="14.0" height="14.0" fill="#000"/><rect x="173.6" y="211.5" width="14.0" height="14.0" fill="#000"/><rect x="176.4" y="246.8" width="14.0" height="14.0" fill="#000"/><rect x="179.2" y="274.9" width="14.0" height="14.0" fill="#000"/><rect x="182.0" y="297.0" width="14.0" height="14.0" fill="#000"/><rect x="184.8" y="316.0" width="14.0" height="14.0" fill="#000"/><rect x="187.5" y="337.2" width="14.0" height="14.0" fill="#000"/><rect x="190.3" y="354.5" width="14.0" height="14.0" fill="#000"/><rect x="193.1" y="364.8" width="14.0" height="14.0" fill="#000"/><rect x="195.9" y="375.2" width="14.0" height="14.0" fill="#000"/><rect x="198.7" y="381.6" width="14.0" height="14.0" fill="#000"/><rect x="201.5" y="387.9" width="14.0" height="14.0" fill="#000"/><rect x="204.2" y="394.3" width="14.0" height="14.0" fill="#000"/><rect x="207.0" y="398.8" width="14.0" height="14.0" fill="#000"/><rect x="209.8" y="403.3" width="14.0" height="14.0" fill="#000"/><rect x="212.6" y="407.8" width="14.0" height="14.0" fill="#000"/><rect x="215.4" y="412.3" width="14.0" height="14.0" fill="#000"/><rect x="218.2" y="416.8" width="14.0" height="14.0" fill="#000"/><rect x="220.9" y="420.9" width="14.0" height="14.0" fill="#000"/><rect x="223.7" y="425.1" width="14.0" height="14.0" fill="#000"/><rect x="226.5" y="429.2" width="14.0" height="14.0" fill="#000"/><rect x="229.3" y="433.4" width="14.0" height="14.0" fill="#000"/><rect x="232.1" y="437.5" width="14.0" height="14.0" fill="#000"/><rect x="234.9" y="440.6" width="14.0" height="14.0" fill="#000"/><rect x="237.6" y="443.7" width="14.0" height="14.0" fill="#000"/><rect x="240.4" y="446.9" width="14.0" height="14.0" fill="#000"/><rect x="243.2" y="450.0" width="14.0" height="14.0" fill="#000"/><rect x="246.0" y="453.1" width="14.0" height="14.0" fill="#000"/><rect x="248.8" y="455.9" width="14.0" height="14.0" fill="#000"/><rect x="251.6" y="458.6" width="14.0" height="14.0" fill="#000"/><rect x="254.3" y="461.4" width="14.0" height="14.0" fill="#000"/><rect x="257.1" y="464.2" width="14.0" height="14.0" fill="#000"/><rect x="259.9" y="466.9" width="14.0" height="14.0" fill="#000"/><rect x="262.7" y="469.4" width="14.0" height="14.0" fill="#000"/><rect x="265.5" y="471.8" width="14.0" height="14.0" fill="#000"/><rect x="268.3" y="474.2" width="14.0" height="14.0" fill="#000"/><rect x="271.0" y="476.6" width="14.0" height="14.0" fill="#000"/><rect x="273.8" y="479.1" width="14.0" height="14.0" fill="#000"/><rect x="287.7" y="486.0" width="14.0" height="14.0" fill="#000"/><rect x="301.6" y="492.9" width="14.0" height="14.0" fill="#000"/><rect x="329.5" y="503.3" width="14.0" height="14.0" fill="#000"/><rect x="357.3" y="515.7" width="14.0" height="14.0" fill="#000"/><rect x="385.1" y="524.0" width="14.0" height="14.0" fill="#000"/><rect x="413.0" y="532.0" width="14.0" height="14.0" fill="#000"/><rect x="440.8" y="535.1" width="14.0" height="14.0" fill="#000"/><rect x="468.6" y="540.0" width="14.0" height="14.0" fill="#000"/><rect x="496.5" y="546.2" width="14.0" height="14.0" fill="#000"/><rect x="524.3" y="551.7" width="14.0" height="14.0" fill="#000"/><rect x="552.1" y="554.2" width="14.0" height="14.0" fill="#000"/><rect x="580.0" y="559.3" width="14.0" height="14.0" fill="#000"/><rect x="607.8" y="562.1" width="14.0" height="14.0" fill="#000"/><rect x="635.6" y="565.6" width="14.0" height="14.0" fill="#000"/><rect x="663.4" y="569.0" width="14.0" height="14.0" fill="#000"/><rect x="691.3" y="572.5" width="14.0" height="14.0" fill="#000"/><rect x="719.1" y="575.6" width="14.0" height="14.0" fill="#000"/><rect x="746.9" y="578.7" width="14.0" height="14.0" fill="#000"/><rect x="774.8" y="581.8" width="14.0" height="14.0" fill="#000"/><rect x="802.6" y="585.0" width="14.0" height="14.0" fill="#000"/><rect x="830.4" y="588.1" width="14.0" height="14.0" fill="#000"/><rect x="858.2" y="590.8" width="14.0" height="14.0" fill="#000"/><rect x="886.1" y="593.6" width="14.0" height="14.0" fill="#000"/><rect x="913.9" y="596.4" width="14.0" height="14.0" fill="#000"/><rect x="941.7" y="599.1" width="14.0" height="14.0" fill="#000"/><rect x="969.6" y="601.9" width="14.0" height="14.0" fill="#000"/><rect x="997.4" y="604.0" width="14.0" height="14.0" fill="#000"/><rect x="1025.2" y="606.1" width="14.0" height="14.0" fill="#000"/><rect x="1053.1" y="608.1" width="14.0" height="14.0" fill="#000"/><rect x="1080.9" y="610.2" width="14.0" height="14.0" fill="#000"/><rect x="1108.7" y="612.3" width="14.0" height="14.0" fill="#000"/></g><circle cx="768.0" cy="107.0" r="5.0" fill="none" stroke="#262626" stroke-width="3.2"/><text transform="translate(788,120.5) scale(0.95,1)" fill="#1a1a1a" stroke="#1a1a1a" stroke-width="1.1" style="font-family:&quot;Liberation Sans&quot;,sans-serif;font-size:42px">-0.65 V</text><path d="M972.5 102.5L981.5 111.5M981.5 102.5L972.5 111.5" stroke="#303030" stroke-width="2.8" fill="none"/><text transform="translate(1000,120.5) scale(0.95,1)" fill="#1a1a1a" stroke="#1a1a1a" stroke-width="1.1" style="font-family:&quot;Liberation Sans&quot;,sans-serif;font-size:42px">-0.675 V</text><path d="M768.0 166.8L775.0 179.8L761.0 179.8Z" fill="#000"/><text transform="translate(788,187) scale(0.95,1)" fill="#1a1a1a" stroke="#1a1a1a" stroke-width="1.1" style="font-family:&quot;Liberation Sans&quot;,sans-serif;font-size:42px">-0.7 V</text><path d="M977.0 168.5L982.5 178.5L971.5 178.5Z" fill="none" stroke="#474747" stroke-width="2.8" stroke-linejoin="round"/><text transform="translate(1000,187) scale(0.95,1)" fill="#1a1a1a" stroke="#1a1a1a" stroke-width="1.1" style="font-family:&quot;Liberation Sans&quot;,sans-serif;font-size:42px">-0.725 V</text><rect x="761.0" y="233.5" width="12" height="13" fill="#000"/><text transform="translate(788,251) scale(0.95,1)" fill="#1a1a1a" stroke="#1a1a1a" stroke-width="1.1" style="font-family:&quot;Liberation Sans&quot;,sans-serif;font-size:42px">-0.75 V</text><text x="237" y="94" style="font-family:&quot;Liberation Serif&quot;,serif;font-size:53px">(a)</text><text x="725" y="860.5" text-anchor="middle" style="font-family:&quot;Liberation Sans&quot;,sans-serif;font-size:43px;font-weight:bold">time (sec)</text><text transform="translate(45,375) rotate(-90)" text-anchor="middle" style="font-family:&quot;Liberation Sans&quot;,sans-serif;font-size:43px;font-weight:bold">i (-mA/cm<tspan dy="-21" font-size="25">2</tspan><tspan dy="21">)</tspan></text><line x1="156.5" y1="943.2" x2="1282.7" y2="943.2" stroke="#c2c2c2" stroke-width="3.2"/><line x1="1282.7" y1="943.2" x2="1282.7" y2="1657.6" stroke="#c4c4c4" stroke-width="3.2"/><line x1="140.5" y1="1657.6" x2="156.5" y2="1657.6" stroke="#dedede" stroke-width="2.2"/><line x1="140.5" y1="1578.2" x2="156.5" y2="1578.2" stroke="#dedede" stroke-width="2.2"/><line x1="140.5" y1="1498.8" x2="156.5" y2="1498.8" stroke="#dedede" stroke-width="2.2"/><line x1="140.5" y1="1419.5" x2="156.5" y2="1419.5" stroke="#dedede" stroke-width="2.2"/><line x1="140.5" y1="1340.1" x2="156.5" y2="1340.1" stroke="#dedede" stroke-width="2.2"/><line x1="140.5" y1="1260.7" x2="156.5" y2="1260.7" stroke="#dedede" stroke-width="2.2"/><line x1="140.5" y1="1181.3" x2="156.5" y2="1181.3" stroke="#dedede" stroke-width="2.2"/><line x1="140.5" y1="1102.0" x2="156.5" y2="1102.0" stroke="#dedede" stroke-width="2.2"/><line x1="140.5" y1="1022.6" x2="156.5" y2="1022.6" stroke="#dedede" stroke-width="2.2"/><line x1="140.5" y1="943.2" x2="156.5" y2="943.2" stroke="#dedede" stroke-width="2.2"/><line x1="157.2" y1="1657.6" x2="157.2" y2="1673.6" stroke="#dedede" stroke-width="2.2"/><line x1="438.6" y1="1657.6" x2="438.6" y2="1673.6" stroke="#dedede" stroke-width="2.2"/><line x1="720.0" y1="1657.6" x2="720.0" y2="1673.6" stroke="#dedede" stroke-width="2.2"/><line x1="1001.3" y1="1657.6" x2="1001.3" y2="1673.6" stroke="#dedede" stroke-width="2.2"/><line x1="1282.7" y1="1657.6" x2="1282.7" y2="1673.6" stroke="#dedede" stroke-width="2.2"/><line x1="156.5" y1="1657.6" x2="1282.7" y2="1657.6" stroke="#b0b0b0" stroke-width="3.4"/><line x1="156.5" y1="943.2" x2="156.5" y2="1657.6" stroke="#cacaca" stroke-width="3.4"/><text transform="translate(130,1671.1) scale(0.95,1)" text-anchor="end" fill="#1a1a1a" stroke="#1a1a1a" stroke-width="1.1" style="font-family:&quot;Liberation Sans&quot;,sans-serif;font-size:42px">0</text><text transform="translate(130,1591.7) scale(0.95,1)" text-anchor="end" fill="#1a1a1a" stroke="#1a1a1a" stroke-width="1.1" style="font-family:&quot;Liberation Sans&quot;,sans-serif;font-size:42px">0.1</text><text transform="translate(130,1512.3) scale(0.95,1)" text-anchor="end" fill="#1a1a1a" stroke="#1a1a1a" stroke-width="1.1" style="font-family:&quot;Liberation Sans&quot;,sans-serif;font-size:42px">0.2</text><text transform="translate(130,1433.0) scale(0.95,1)" text-anchor="end" fill="#1a1a1a" stroke="#1a1a1a" stroke-width="1.1" style="font-family:&quot;Liberation Sans&quot;,sans-serif;font-size:42px">0.3</text><text transform="translate(130,1353.6) scale(0.95,1)" text-anchor="end" fill="#1a1a1a" stroke="#1a1a1a" stroke-width="1.1" style="font-family:&quot;Liberation Sans&quot;,sans-serif;font-size:42px">0.4</text><text transform="translate(130,1274.2) scale(0.95,1)" text-anchor="end" fill="#1a1a1a" stroke="#1a1a1a" stroke-width="1.1" style="font-family:&quot;Liberation Sans&quot;,sans-serif;font-size:42px">0.5</text><text transform="translate(130,1194.8) scale(0.95,1)" text-anchor="end" fill="#1a1a1a" stroke="#1a1a1a" stroke-width="1.1" style="font-family:&quot;Liberation Sans&quot;,sans-serif;font-size:42px">0.6</text><text transform="translate(130,1115.5) scale(0.95,1)" text-anchor="end" fill="#1a1a1a" stroke="#1a1a1a" stroke-width="1.1" style="font-family:&quot;Liberation Sans&quot;,sans-serif;font-size:42px">0.7</text><text transform="translate(130,1036.1) scale(0.95,1)" text-anchor="end" fill="#1a1a1a" stroke="#1a1a1a" stroke-width="1.1" style="font-family:&quot;Liberation Sans&quot;,sans-serif;font-size:42px">0.8</text><text transform="translate(130,956.7) scale(0.95,1)" text-anchor="end" fill="#1a1a1a" stroke="#1a1a1a" stroke-width="1.1" style="font-family:&quot;Liberation Sans&quot;,sans-serif;font-size:42px">0.9</text><text transform="translate(157.2,1727) scale(0.95,1)" text-anchor="middle" fill="#1a1a1a" stroke="#1a1a1a" stroke-width="1.1" style="font-family:&quot;Liberation Sans&quot;,sans-serif;font-size:42px">0</text><text transform="translate(438.6,1727) scale(0.95,1)" text-anchor="middle" fill="#1a1a1a" stroke="#1a1a1a" stroke-width="1.1" style="font-family:&quot;Liberation Sans&quot;,sans-serif;font-size:42px">10</text><text transform="translate(720.0,1727) scale(0.95,1)" text-anchor="middle" fill="#1a1a1a" stroke="#1a1a1a" stroke-width="1.1" style="font-family:&quot;Liberation Sans&quot;,sans-serif;font-size:42px">20</text><text transform="translate(1001.3,1727) scale(0.95,1)" text-anchor="middle" fill="#1a1a1a" stroke="#1a1a1a" stroke-width="1.1" style="font-family:&quot;Liberation Sans&quot;,sans-serif;font-size:42px">30</text><text transform="translate(1282.7,1727) scale(0.95,1)" text-anchor="middle" fill="#1a1a1a" stroke="#1a1a1a" stroke-width="1.1" style="font-family:&quot;Liberation Sans&quot;,sans-serif;font-size:42px">40</text><g><circle cx="157.2" cy="1624.0" r="7.5" fill="#000"/><circle cx="162.8" cy="1623.4" r="7.5" fill="#000"/><circle cx="168.5" cy="1622.8" r="7.5" fill="#000"/><circle cx="174.1" cy="1622.3" r="7.5" fill="#000"/><circle cx="179.7" cy="1621.7" r="7.5" fill="#000"/><circle cx="185.3" cy="1621.1" r="7.5" fill="#000"/><circle cx="191.0" cy="1620.6" r="7.5" fill="#000"/><circle cx="196.6" cy="1620.1" r="7.5" fill="#000"/><circle cx="202.2" cy="1619.7" r="7.5" fill="#000"/><circle cx="207.8" cy="1619.2" r="7.5" fill="#000"/><circle cx="213.5" cy="1618.7" r="7.5" fill="#000"/><circle cx="219.1" cy="1618.4" r="7.5" fill="#000"/><circle cx="224.7" cy="1618.1" r="7.5" fill="#000"/><circle cx="230.4" cy="1617.8" r="7.5" fill="#000"/><circle cx="236.0" cy="1617.5" r="7.5" fill="#000"/><circle cx="241.6" cy="1617.2" r="7.5" fill="#000"/><circle cx="255.7" cy="1616.6" r="7.5" fill="#000"/><circle cx="269.8" cy="1616.3" r="7.5" fill="#000"/><circle cx="283.8" cy="1615.7" r="7.5" fill="#000"/><circle cx="297.9" cy="1615.1" r="7.5" fill="#000"/><circle cx="326.0" cy="1614.7" r="7.5" fill="#000"/><circle cx="354.2" cy="1614.3" r="7.5" fill="#000"/><circle cx="382.3" cy="1613.9" r="7.5" fill="#000"/><circle cx="410.4" cy="1613.5" r="7.5" fill="#000"/><circle cx="438.6" cy="1613.0" r="7.5" fill="#000"/><circle cx="466.7" cy="1612.5" r="7.5" fill="#000"/><circle cx="494.8" cy="1612.0" r="7.5" fill="#000"/><circle cx="523.0" cy="1611.6" r="7.5" fill="#000"/><circle cx="551.1" cy="1610.9" r="7.5" fill="#000"/><circle cx="579.3" cy="1610.3" r="7.5" fill="#000"/><circle cx="607.4" cy="1609.7" r="7.5" fill="#000"/><circle cx="635.5" cy="1608.9" r="7.5" fill="#000"/><circle cx="663.7" cy="1608.2" r="7.5" fill="#000"/><circle cx="691.8" cy="1607.5" r="7.5" fill="#000"/><circle cx="720.0" cy="1606.8" r="7.5" fill="#000"/><circle cx="748.1" cy="1606.2" r="7.5" fill="#000"/><circle cx="776.2" cy="1605.5" r="7.5" fill="#000"/><circle cx="804.4" cy="1604.9" r="7.5" fill="#000"/><circle cx="832.5" cy="1604.3" r="7.5" fill="#000"/><circle cx="860.6" cy="1603.6" r="7.5" fill="#000"/><circle cx="888.8" cy="1603.0" r="7.5" fill="#000"/><circle cx="916.9" cy="1602.4" r="7.5" fill="#000"/><circle cx="945.0" cy="1601.7" r="7.5" fill="#000"/><circle cx="973.2" cy="1601.1" r="7.5" fill="#000"/><circle cx="1001.3" cy="1600.4" r="7.5" fill="#000"/><circle cx="1029.5" cy="1599.9" r="7.5" fill="#000"/><circle cx="1057.6" cy="1599.4" r="7.5" fill="#000"/><circle cx="1085.7" cy="1598.9" r="7.5" fill="#000"/><circle cx="1113.9" cy="1598.4" r="7.5" fill="#000"/><circle cx="1142.0" cy="1597.9" r="7.5" fill="#000"/><circle cx="157.2" cy="1610.8" r="5.8" fill="none" stroke="#2a2a2a" stroke-width="3.4"/><circle cx="162.8" cy="1609.2" r="5.8" fill="none" stroke="#2a2a2a" stroke-width="3.4"/><circle cx="168.5" cy="1607.6" r="5.8" fill="none" stroke="#2a2a2a" stroke-width="3.4"/><circle cx="174.1" cy="1606.0" r="5.8" fill="none" stroke="#2a2a2a" stroke-width="3.4"/><circle cx="179.7" cy="1604.4" r="5.8" fill="none" stroke="#2a2a2a" stroke-width="3.4"/><circle cx="185.3" cy="1602.8" r="5.8" fill="none" stroke="#2a2a2a" stroke-width="3.4"/><circle cx="191.0" cy="1601.7" r="5.8" fill="none" stroke="#2a2a2a" stroke-width="3.4"/><circle cx="196.6" cy="1600.6" r="5.8" fill="none" stroke="#2a2a2a" stroke-width="3.4"/><circle cx="202.2" cy="1599.5" r="5.8" fill="none" stroke="#2a2a2a" stroke-width="3.4"/><circle cx="207.8" cy="1598.4" r="5.8" fill="none" stroke="#2a2a2a" stroke-width="3.4"/><circle cx="213.5" cy="1597.3" r="5.8" fill="none" stroke="#2a2a2a" stroke-width="3.4"/><circle cx="219.1" cy="1596.5" r="5.8" fill="none" stroke="#2a2a2a" stroke-width="3.4"/><circle cx="224.7" cy="1595.7" r="5.8" fill="none" stroke="#2a2a2a" stroke-width="3.4"/><circle cx="230.4" cy="1594.9" r="5.8" fill="none" stroke="#2a2a2a" stroke-width="3.4"/><circle cx="236.0" cy="1594.1" r="5.8" fill="none" stroke="#2a2a2a" stroke-width="3.4"/><circle cx="241.6" cy="1593.3" r="5.8" fill="none" stroke="#2a2a2a" stroke-width="3.4"/><circle cx="255.7" cy="1592.1" r="5.8" fill="none" stroke="#4a4a4a" stroke-width="3.4"/><circle cx="269.8" cy="1590.9" r="5.8" fill="none" stroke="#4a4a4a" stroke-width="3.4"/><circle cx="283.8" cy="1590.3" r="5.8" fill="none" stroke="#4a4a4a" stroke-width="3.4"/><circle cx="297.9" cy="1589.7" r="5.8" fill="none" stroke="#4a4a4a" stroke-width="3.4"/><circle cx="326.0" cy="1587.9" r="5.8" fill="none" stroke="#4a4a4a" stroke-width="3.4"/><circle cx="354.2" cy="1586.5" r="5.8" fill="none" stroke="#4a4a4a" stroke-width="3.4"/><circle cx="382.3" cy="1582.5" r="5.8" fill="none" stroke="#4a4a4a" stroke-width="3.4"/><circle cx="410.4" cy="1579.5" r="5.8" fill="none" stroke="#4a4a4a" stroke-width="3.4"/><circle cx="438.6" cy="1575.8" r="5.8" fill="none" stroke="#4a4a4a" stroke-width="3.4"/><circle cx="466.7" cy="1574.3" r="5.8" fill="none" stroke="#4a4a4a" stroke-width="3.4"/><circle cx="494.8" cy="1570.3" r="5.8" fill="none" stroke="#4a4a4a" stroke-width="3.4"/><circle cx="523.0" cy="1566.6" r="5.8" fill="none" stroke="#4a4a4a" stroke-width="3.4"/><circle cx="551.1" cy="1563.4" r="5.8" fill="none" stroke="#4a4a4a" stroke-width="3.4"/><circle cx="579.3" cy="1560.1" r="5.8" fill="none" stroke="#4a4a4a" stroke-width="3.4"/><circle cx="607.4" cy="1556.8" r="5.8" fill="none" stroke="#4a4a4a" stroke-width="3.4"/><circle cx="635.5" cy="1553.4" r="5.8" fill="none" stroke="#4a4a4a" stroke-width="3.4"/><circle cx="663.7" cy="1550.0" r="5.8" fill="none" stroke="#4a4a4a" stroke-width="3.4"/><circle cx="691.8" cy="1546.7" r="5.8" fill="none" stroke="#4a4a4a" stroke-width="3.4"/><circle cx="720.0" cy="1543.3" r="5.8" fill="none" stroke="#4a4a4a" stroke-width="3.4"/><circle cx="748.1" cy="1539.9" r="5.8" fill="none" stroke="#4a4a4a" stroke-width="3.4"/><circle cx="776.2" cy="1536.5" r="5.8" fill="none" stroke="#4a4a4a" stroke-width="3.4"/><circle cx="804.4" cy="1533.6" r="5.8" fill="none" stroke="#4a4a4a" stroke-width="3.4"/><circle cx="832.5" cy="1530.6" r="5.8" fill="none" stroke="#4a4a4a" stroke-width="3.4"/><circle cx="860.6" cy="1528.5" r="5.8" fill="none" stroke="#4a4a4a" stroke-width="3.4"/><circle cx="888.8" cy="1526.4" r="5.8" fill="none" stroke="#4a4a4a" stroke-width="3.4"/><circle cx="916.9" cy="1524.2" r="5.8" fill="none" stroke="#4a4a4a" stroke-width="3.4"/><circle cx="945.0" cy="1523.2" r="5.8" fill="none" stroke="#4a4a4a" stroke-width="3.4"/><circle cx="973.2" cy="1522.1" r="5.8" fill="none" stroke="#4a4a4a" stroke-width="3.4"/><circle cx="1001.3" cy="1521.1" r="5.8" fill="none" stroke="#4a4a4a" stroke-width="3.4"/><circle cx="1029.5" cy="1520.2" r="5.8" fill="none" stroke="#4a4a4a" stroke-width="3.4"/><circle cx="1057.6" cy="1519.3" r="5.8" fill="none" stroke="#4a4a4a" stroke-width="3.4"/><circle cx="1085.7" cy="1518.4" r="5.8" fill="none" stroke="#4a4a4a" stroke-width="3.4"/><circle cx="1113.9" cy="1517.5" r="5.8" fill="none" stroke="#4a4a4a" stroke-width="3.4"/><circle cx="1142.0" cy="1516.6" r="5.8" fill="none" stroke="#4a4a4a" stroke-width="3.4"/><path d="M151.7 1568.8L162.7 1579.8M162.7 1568.8L151.7 1579.8" stroke="#303030" stroke-width="3.2" fill="none"/><path d="M157.3 1562.7L168.3 1573.7M168.3 1562.7L157.3 1573.7" stroke="#303030" stroke-width="3.2" fill="none"/><path d="M163.0 1556.7L174.0 1567.7M174.0 1556.7L163.0 1567.7" stroke="#303030" stroke-width="3.2" fill="none"/><path d="M168.6 1550.8L179.6 1561.8M179.6 1550.8L168.6 1561.8" stroke="#303030" stroke-width="3.2" fill="none"/><path d="M174.2 1545.1L185.2 1556.1M185.2 1545.1L174.2 1556.1" stroke="#303030" stroke-width="3.2" fill="none"/><path d="M179.8 1539.4L190.8 1550.4M190.8 1539.4L179.8 1550.4" stroke="#303030" stroke-width="3.2" fill="none"/><path d="M185.5 1534.3L196.5 1545.3M196.5 1534.3L185.5 1545.3" stroke="#303030" stroke-width="3.2" fill="none"/><path d="M191.1 1529.2L202.1 1540.2M202.1 1529.2L191.1 1540.2" stroke="#303030" stroke-width="3.2" fill="none"/><path d="M196.7 1524.1L207.7 1535.1M207.7 1524.1L196.7 1535.1" stroke="#303030" stroke-width="3.2" fill="none"/><path d="M202.3 1519.1L213.3 1530.1M213.3 1519.1L202.3 1530.1" stroke="#303030" stroke-width="3.2" fill="none"/><path d="M208.0 1514.0L219.0 1525.0M219.0 1514.0L208.0 1525.0" stroke="#303030" stroke-width="3.2" fill="none"/><path d="M213.6 1509.9L224.6 1520.9M224.6 1509.9L213.6 1520.9" stroke="#303030" stroke-width="3.2" fill="none"/><path d="M219.2 1505.7L230.2 1516.7M230.2 1505.7L219.2 1516.7" stroke="#303030" stroke-width="3.2" fill="none"/><path d="M224.9 1501.9L235.9 1512.9M235.9 1501.9L224.9 1512.9" stroke="#303030" stroke-width="3.2" fill="none"/><path d="M230.5 1498.4L241.5 1509.4M241.5 1498.4L230.5 1509.4" stroke="#303030" stroke-width="3.2" fill="none"/><path d="M236.1 1494.9L247.1 1505.9M247.1 1494.9L236.1 1505.9" stroke="#303030" stroke-width="3.2" fill="none"/><path d="M250.2 1487.8L261.2 1498.8M261.2 1487.8L250.2 1498.8" stroke="#303030" stroke-width="3.2" fill="none"/><path d="M264.2 1481.4L275.2 1492.4M275.2 1481.4L264.2 1492.4" stroke="#303030" stroke-width="3.2" fill="none"/><path d="M278.3 1474.3L289.3 1485.3M289.3 1474.3L278.3 1485.3" stroke="#303030" stroke-width="3.2" fill="none"/><path d="M292.4 1466.4L303.4 1477.4M303.4 1466.4L292.4 1477.4" stroke="#303030" stroke-width="3.2" fill="none"/><path d="M320.5 1452.4L331.5 1463.4M331.5 1452.4L320.5 1463.4" stroke="#303030" stroke-width="3.2" fill="none"/><path d="M348.7 1439.4L359.7 1450.4M359.7 1439.4L348.7 1450.4" stroke="#303030" stroke-width="3.2" fill="none"/><path d="M376.8 1425.9L387.8 1436.9M387.8 1425.9L376.8 1436.9" stroke="#303030" stroke-width="3.2" fill="none"/><path d="M404.9 1414.0L415.9 1425.0M415.9 1414.0L404.9 1425.0" stroke="#303030" stroke-width="3.2" fill="none"/><path d="M433.1 1407.6L444.1 1418.6M444.1 1407.6L433.1 1418.6" stroke="#303030" stroke-width="3.2" fill="none"/><path d="M461.2 1402.1L472.2 1413.1M472.2 1402.1L461.2 1413.1" stroke="#303030" stroke-width="3.2" fill="none"/><path d="M489.3 1399.2L500.3 1410.2M500.3 1399.2L489.3 1410.2" stroke="#303030" stroke-width="3.2" fill="none"/><path d="M517.5 1402.1L528.5 1413.1M528.5 1402.1L517.5 1413.1" stroke="#303030" stroke-width="3.2" fill="none"/><path d="M545.6 1408.4L556.6 1419.4M556.6 1408.4L545.6 1419.4" stroke="#303030" stroke-width="3.2" fill="none"/><path d="M573.8 1421.9L584.8 1432.9M584.8 1421.9L573.8 1432.9" stroke="#303030" stroke-width="3.2" fill="none"/><path d="M601.9 1435.4L612.9 1446.4M612.9 1435.4L601.9 1446.4" stroke="#303030" stroke-width="3.2" fill="none"/><path d="M630.0 1452.1L641.0 1463.1M641.0 1452.1L630.0 1463.1" stroke="#303030" stroke-width="3.2" fill="none"/><path d="M658.2 1465.6L669.2 1476.6M669.2 1465.6L658.2 1476.6" stroke="#303030" stroke-width="3.2" fill="none"/><path d="M686.3 1473.8L697.3 1484.8M697.3 1473.8L686.3 1484.8" stroke="#303030" stroke-width="3.2" fill="none"/><path d="M714.5 1484.4L725.5 1495.4M725.5 1484.4L714.5 1495.4" stroke="#303030" stroke-width="3.2" fill="none"/><path d="M742.6 1493.3L753.6 1504.3M753.6 1493.3L742.6 1504.3" stroke="#303030" stroke-width="3.2" fill="none"/><path d="M770.7 1499.9L781.7 1510.9M781.7 1499.9L770.7 1510.9" stroke="#303030" stroke-width="3.2" fill="none"/><path d="M798.9 1504.5L809.9 1515.5M809.9 1504.5L798.9 1515.5" stroke="#303030" stroke-width="3.2" fill="none"/><path d="M827.0 1508.8L838.0 1519.8M838.0 1508.8L827.0 1519.8" stroke="#303030" stroke-width="3.2" fill="none"/><path d="M855.1 1513.2L866.1 1524.2M866.1 1513.2L855.1 1524.2" stroke="#303030" stroke-width="3.2" fill="none"/><path d="M883.3 1517.2L894.3 1528.2M894.3 1517.2L883.3 1528.2" stroke="#303030" stroke-width="3.2" fill="none"/><path d="M911.4 1521.1L922.4 1532.1M922.4 1521.1L911.4 1532.1" stroke="#303030" stroke-width="3.2" fill="none"/><path d="M939.5 1524.3L950.5 1535.3M950.5 1524.3L939.5 1535.3" stroke="#303030" stroke-width="3.2" fill="none"/><path d="M967.7 1527.5L978.7 1538.5M978.7 1527.5L967.7 1538.5" stroke="#303030" stroke-width="3.2" fill="none"/><path d="M995.8 1530.7L1006.8 1541.7M1006.8 1530.7L995.8 1541.7" stroke="#303030" stroke-width="3.2" fill="none"/><path d="M1024.0 1532.7L1035.0 1543.7M1035.0 1532.7L1024.0 1543.7" stroke="#303030" stroke-width="3.2" fill="none"/><path d="M1052.1 1534.8L1063.1 1545.8M1063.1 1534.8L1052.1 1545.8" stroke="#303030" stroke-width="3.2" fill="none"/><path d="M1080.2 1536.8L1091.2 1547.8M1091.2 1536.8L1080.2 1547.8" stroke="#303030" stroke-width="3.2" fill="none"/><path d="M1108.4 1538.9L1119.4 1549.9M1119.4 1538.9L1108.4 1549.9" stroke="#303030" stroke-width="3.2" fill="none"/><path d="M1136.5 1541.0L1147.5 1552.0M1147.5 1541.0L1136.5 1552.0" stroke="#303030" stroke-width="3.2" fill="none"/><path d="M157.2 1516.0L164.4 1531.0L149.9 1531.0Z" fill="#000"/><path d="M162.8 1504.9L170.1 1519.9L155.6 1519.9Z" fill="#000"/><path d="M168.5 1492.4L175.7 1507.4L161.2 1507.4Z" fill="#000"/><path d="M174.1 1479.9L181.3 1494.9L166.8 1494.9Z" fill="#000"/><path d="M179.7 1467.4L187.0 1482.4L172.5 1482.4Z" fill="#000"/><path d="M185.3 1454.9L192.6 1469.9L178.1 1469.9Z" fill="#000"/><path d="M191.0 1443.0L198.2 1458.0L183.7 1458.0Z" fill="#000"/><path d="M196.6 1431.1L203.8 1446.1L189.3 1446.1Z" fill="#000"/><path d="M202.2 1419.2L209.5 1434.2L195.0 1434.2Z" fill="#000"/><path d="M207.8 1407.2L215.1 1422.2L200.6 1422.2Z" fill="#000"/><path d="M213.5 1395.3L220.7 1410.3L206.2 1410.3Z" fill="#000"/><path d="M219.1 1384.0L226.4 1399.0L211.9 1399.0Z" fill="#000"/><path d="M224.7 1372.7L232.0 1387.7L217.5 1387.7Z" fill="#000"/><path d="M230.4 1361.4L237.6 1376.4L223.1 1376.4Z" fill="#000"/><path d="M236.0 1350.1L243.2 1365.1L228.7 1365.1Z" fill="#000"/><path d="M241.6 1327.9L248.9 1342.9L234.4 1342.9Z" fill="#000"/><path d="M255.7 1308.0L262.9 1323.0L248.4 1323.0Z" fill="#000"/><path d="M269.8 1292.9L277.0 1307.9L262.5 1307.9Z" fill="#000"/><path d="M283.8 1281.3L291.1 1296.3L276.6 1296.3Z" fill="#000"/><path d="M297.9 1273.9L305.1 1288.9L290.6 1288.9Z" fill="#000"/><path d="M326.0 1281.3L333.3 1296.3L318.8 1296.3Z" fill="#000"/><path d="M354.2 1323.4L361.4 1338.4L346.9 1338.4Z" fill="#000"/><path d="M382.3 1366.8L389.5 1381.8L375.0 1381.8Z" fill="#000"/><path d="M410.4 1397.7L417.7 1412.7L403.2 1412.7Z" fill="#000"/><path d="M438.6 1421.7L445.8 1436.7L431.3 1436.7Z" fill="#000"/><path d="M466.7 1437.6L474.0 1452.6L459.5 1452.6Z" fill="#000"/><path d="M494.8 1450.1L502.1 1465.1L487.6 1465.1Z" fill="#000"/><path d="M523.0 1463.6L530.2 1478.6L515.7 1478.6Z" fill="#000"/><path d="M551.1 1473.1L558.4 1488.1L543.9 1488.1Z" fill="#000"/><path d="M579.3 1479.5L586.5 1494.5L572.0 1494.5Z" fill="#000"/><path d="M607.4 1486.6L614.6 1501.6L600.1 1501.6Z" fill="#000"/><path d="M635.5 1492.6L642.8 1507.6L628.3 1507.6Z" fill="#000"/><path d="M663.7 1498.5L670.9 1513.5L656.4 1513.5Z" fill="#000"/><path d="M691.8 1503.3L699.1 1518.3L684.6 1518.3Z" fill="#000"/><path d="M720.0 1508.1L727.2 1523.1L712.7 1523.1Z" fill="#000"/><path d="M748.1 1512.0L755.3 1527.0L740.8 1527.0Z" fill="#000"/><path d="M776.2 1516.0L783.5 1531.0L769.0 1531.0Z" fill="#000"/><path d="M804.4 1520.0L811.6 1535.0L797.1 1535.0Z" fill="#000"/><path d="M832.5 1522.6L839.8 1537.6L825.2 1537.6Z" fill="#000"/><path d="M860.6 1525.3L867.9 1540.3L853.4 1540.3Z" fill="#000"/><path d="M888.8 1527.9L896.0 1542.9L881.5 1542.9Z" fill="#000"/><path d="M916.9 1529.5L924.2 1544.5L909.7 1544.5Z" fill="#000"/><path d="M945.0 1531.1L952.3 1546.1L937.8 1546.1Z" fill="#000"/><path d="M973.2 1532.7L980.4 1547.7L965.9 1547.7Z" fill="#000"/><path d="M1001.3 1534.3L1008.6 1549.3L994.1 1549.3Z" fill="#000"/><path d="M1029.5 1535.4L1036.7 1550.4L1022.2 1550.4Z" fill="#000"/><path d="M1057.6 1536.5L1064.8 1551.5L1050.3 1551.5Z" fill="#000"/><path d="M1085.7 1537.6L1093.0 1552.6L1078.5 1552.6Z" fill="#000"/><path d="M1113.9 1538.7L1121.1 1553.7L1106.6 1553.7Z" fill="#000"/><path d="M1142.0 1539.8L1149.3 1554.8L1134.8 1554.8Z" fill="#000"/><path d="M157.2 1420.5L163.9 1433.0L150.4 1433.0Z" fill="none" stroke="#474747" stroke-width="3.2" stroke-linejoin="round"/><path d="M162.8 1384.0L169.6 1396.5L156.1 1396.5Z" fill="none" stroke="#474747" stroke-width="3.2" stroke-linejoin="round"/><path d="M168.5 1353.9L175.2 1366.4L161.7 1366.4Z" fill="none" stroke="#474747" stroke-width="3.2" stroke-linejoin="round"/><path d="M174.1 1327.7L180.8 1340.2L167.3 1340.2Z" fill="none" stroke="#474747" stroke-width="3.2" stroke-linejoin="round"/><path d="M179.7 1307.8L186.5 1320.3L173.0 1320.3Z" fill="none" stroke="#474747" stroke-width="3.2" stroke-linejoin="round"/><path d="M185.3 1288.0L192.1 1300.5L178.6 1300.5Z" fill="none" stroke="#474747" stroke-width="3.2" stroke-linejoin="round"/><path d="M191.0 1271.3L197.7 1283.8L184.2 1283.8Z" fill="none" stroke="#474747" stroke-width="3.2" stroke-linejoin="round"/><path d="M196.6 1253.8L203.3 1266.3L189.8 1266.3Z" fill="none" stroke="#474747" stroke-width="3.2" stroke-linejoin="round"/><path d="M202.2 1238.0L209.0 1250.5L195.5 1250.5Z" fill="none" stroke="#474747" stroke-width="3.2" stroke-linejoin="round"/><path d="M207.8 1223.7L214.6 1236.2L201.1 1236.2Z" fill="none" stroke="#474747" stroke-width="3.2" stroke-linejoin="round"/><path d="M213.5 1211.8L220.2 1224.3L206.7 1224.3Z" fill="none" stroke="#474747" stroke-width="3.2" stroke-linejoin="round"/><path d="M219.1 1200.7L225.9 1213.2L212.4 1213.2Z" fill="none" stroke="#474747" stroke-width="3.2" stroke-linejoin="round"/><path d="M224.7 1191.9L231.5 1204.4L218.0 1204.4Z" fill="none" stroke="#474747" stroke-width="3.2" stroke-linejoin="round"/><path d="M230.4 1185.6L237.1 1198.1L223.6 1198.1Z" fill="none" stroke="#474747" stroke-width="3.2" stroke-linejoin="round"/><path d="M236.0 1182.4L242.7 1194.9L229.2 1194.9Z" fill="none" stroke="#474747" stroke-width="3.2" stroke-linejoin="round"/><path d="M241.6 1186.4L248.4 1198.9L234.9 1198.9Z" fill="none" stroke="#474747" stroke-width="3.2" stroke-linejoin="round"/><path d="M255.7 1199.1L262.4 1211.6L248.9 1211.6Z" fill="none" stroke="#474747" stroke-width="3.2" stroke-linejoin="round"/><path d="M269.8 1239.5L276.5 1252.0L263.0 1252.0Z" fill="none" stroke="#474747" stroke-width="3.2" stroke-linejoin="round"/><path d="M283.8 1271.3L290.6 1283.8L277.1 1283.8Z" fill="none" stroke="#474747" stroke-width="3.2" stroke-linejoin="round"/><path d="M297.9 1315.3L304.6 1327.8L291.1 1327.8Z" fill="none" stroke="#474747" stroke-width="3.2" stroke-linejoin="round"/><path d="M326.0 1361.8L332.8 1374.3L319.3 1374.3Z" fill="none" stroke="#474747" stroke-width="3.2" stroke-linejoin="round"/><path d="M354.2 1393.9L360.9 1406.4L347.4 1406.4Z" fill="none" stroke="#474747" stroke-width="3.2" stroke-linejoin="round"/><path d="M382.3 1415.0L389.0 1427.5L375.5 1427.5Z" fill="none" stroke="#474747" stroke-width="3.2" stroke-linejoin="round"/><path d="M410.4 1428.5L417.2 1441.0L403.7 1441.0Z" fill="none" stroke="#474747" stroke-width="3.2" stroke-linejoin="round"/><path d="M438.6 1442.8L445.3 1455.3L431.8 1455.3Z" fill="none" stroke="#474747" stroke-width="3.2" stroke-linejoin="round"/><path d="M466.7 1453.9L473.5 1466.4L460.0 1466.4Z" fill="none" stroke="#474747" stroke-width="3.2" stroke-linejoin="round"/><path d="M494.8 1464.2L501.6 1476.7L488.1 1476.7Z" fill="none" stroke="#474747" stroke-width="3.2" stroke-linejoin="round"/><path d="M523.0 1474.5L529.7 1487.0L516.2 1487.0Z" fill="none" stroke="#474747" stroke-width="3.2" stroke-linejoin="round"/><path d="M551.1 1484.0L557.9 1496.5L544.4 1496.5Z" fill="none" stroke="#474747" stroke-width="3.2" stroke-linejoin="round"/><path d="M579.3 1490.0L586.0 1502.5L572.5 1502.5Z" fill="none" stroke="#474747" stroke-width="3.2" stroke-linejoin="round"/><path d="M607.4 1495.9L614.1 1508.4L600.6 1508.4Z" fill="none" stroke="#474747" stroke-width="3.2" stroke-linejoin="round"/><path d="M635.5 1501.1L642.3 1513.6L628.8 1513.6Z" fill="none" stroke="#474747" stroke-width="3.2" stroke-linejoin="round"/><path d="M663.7 1506.3L670.4 1518.8L656.9 1518.8Z" fill="none" stroke="#474747" stroke-width="3.2" stroke-linejoin="round"/><path d="M691.8 1510.2L698.6 1522.7L685.1 1522.7Z" fill="none" stroke="#474747" stroke-width="3.2" stroke-linejoin="round"/><path d="M720.0 1514.2L726.7 1526.7L713.2 1526.7Z" fill="none" stroke="#474747" stroke-width="3.2" stroke-linejoin="round"/><path d="M748.1 1517.4L754.8 1529.9L741.3 1529.9Z" fill="none" stroke="#474747" stroke-width="3.2" stroke-linejoin="round"/><path d="M776.2 1520.5L783.0 1533.0L769.5 1533.0Z" fill="none" stroke="#474747" stroke-width="3.2" stroke-linejoin="round"/><path d="M804.4 1523.7L811.1 1536.2L797.6 1536.2Z" fill="none" stroke="#474747" stroke-width="3.2" stroke-linejoin="round"/><path d="M832.5 1526.4L839.2 1538.9L825.8 1538.9Z" fill="none" stroke="#474747" stroke-width="3.2" stroke-linejoin="round"/><path d="M860.6 1529.0L867.4 1541.5L853.9 1541.5Z" fill="none" stroke="#474747" stroke-width="3.2" stroke-linejoin="round"/><path d="M888.8 1531.7L895.5 1544.2L882.0 1544.2Z" fill="none" stroke="#474747" stroke-width="3.2" stroke-linejoin="round"/><path d="M916.9 1533.2L923.7 1545.7L910.2 1545.7Z" fill="none" stroke="#474747" stroke-width="3.2" stroke-linejoin="round"/><path d="M945.0 1534.8L951.8 1547.3L938.3 1547.3Z" fill="none" stroke="#474747" stroke-width="3.2" stroke-linejoin="round"/><path d="M973.2 1536.4L979.9 1548.9L966.4 1548.9Z" fill="none" stroke="#474747" stroke-width="3.2" stroke-linejoin="round"/><path d="M1001.3 1538.0L1008.1 1550.5L994.6 1550.5Z" fill="none" stroke="#474747" stroke-width="3.2" stroke-linejoin="round"/><path d="M1029.5 1539.1L1036.2 1551.6L1022.7 1551.6Z" fill="none" stroke="#474747" stroke-width="3.2" stroke-linejoin="round"/><path d="M1057.6 1540.2L1064.3 1552.7L1050.8 1552.7Z" fill="none" stroke="#474747" stroke-width="3.2" stroke-linejoin="round"/><path d="M1085.7 1541.3L1092.5 1553.8L1079.0 1553.8Z" fill="none" stroke="#474747" stroke-width="3.2" stroke-linejoin="round"/><path d="M1113.9 1542.5L1120.6 1555.0L1107.1 1555.0Z" fill="none" stroke="#474747" stroke-width="3.2" stroke-linejoin="round"/><path d="M1142.0 1543.6L1148.8 1556.1L1135.3 1556.1Z" fill="none" stroke="#474747" stroke-width="3.2" stroke-linejoin="round"/><rect x="150.2" y="1247.4" width="14.0" height="14.0" fill="#000"/><rect x="155.8" y="1198.9" width="14.0" height="14.0" fill="#000"/><rect x="161.5" y="1165.1" width="14.0" height="14.0" fill="#000"/><rect x="167.1" y="1139.7" width="14.0" height="14.0" fill="#000"/><rect x="172.7" y="1120.4" width="14.0" height="14.0" fill="#000"/><rect x="178.3" y="1102.9" width="14.0" height="14.0" fill="#000"/><rect x="184.0" y="1092.6" width="14.0" height="14.0" fill="#000"/><rect x="189.6" y="1086.2" width="14.0" height="14.0" fill="#000"/><rect x="195.2" y="1083.8" width="14.0" height="14.0" fill="#000"/><rect x="200.8" y="1091.0" width="14.0" height="14.0" fill="#000"/><rect x="206.5" y="1100.5" width="14.0" height="14.0" fill="#000"/><rect x="212.1" y="1120.4" width="14.0" height="14.0" fill="#000"/><rect x="217.7" y="1145.8" width="14.0" height="14.0" fill="#000"/><rect x="223.4" y="1175.1" width="14.0" height="14.0" fill="#000"/><rect x="229.0" y="1202.1" width="14.0" height="14.0" fill="#000"/><rect x="234.6" y="1230.7" width="14.0" height="14.0" fill="#000"/><rect x="248.7" y="1271.2" width="14.0" height="14.0" fill="#000"/><rect x="262.8" y="1312.1" width="14.0" height="14.0" fill="#000"/><rect x="276.8" y="1333.1" width="14.0" height="14.0" fill="#000"/><rect x="290.9" y="1356.1" width="14.0" height="14.0" fill="#000"/><rect x="319.0" y="1389.7" width="14.0" height="14.0" fill="#000"/><rect x="347.2" y="1410.9" width="14.0" height="14.0" fill="#000"/><rect x="375.3" y="1426.8" width="14.0" height="14.0" fill="#000"/><rect x="403.4" y="1440.6" width="14.0" height="14.0" fill="#000"/><rect x="431.6" y="1453.9" width="14.0" height="14.0" fill="#000"/><rect x="459.7" y="1464.9" width="14.0" height="14.0" fill="#000"/><rect x="487.8" y="1472.8" width="14.0" height="14.0" fill="#000"/><rect x="516.0" y="1483.9" width="14.0" height="14.0" fill="#000"/><rect x="544.1" y="1491.8" width="14.0" height="14.0" fill="#000"/><rect x="572.3" y="1498.2" width="14.0" height="14.0" fill="#000"/><rect x="600.4" y="1503.0" width="14.0" height="14.0" fill="#000"/><rect x="628.5" y="1507.3" width="14.0" height="14.0" fill="#000"/><rect x="656.7" y="1511.7" width="14.0" height="14.0" fill="#000"/><rect x="684.8" y="1515.7" width="14.0" height="14.0" fill="#000"/><rect x="713.0" y="1519.6" width="14.0" height="14.0" fill="#000"/><rect x="741.1" y="1522.8" width="14.0" height="14.0" fill="#000"/><rect x="769.2" y="1526.0" width="14.0" height="14.0" fill="#000"/><rect x="797.4" y="1529.2" width="14.0" height="14.0" fill="#000"/><rect x="825.5" y="1531.3" width="14.0" height="14.0" fill="#000"/><rect x="853.6" y="1533.4" width="14.0" height="14.0" fill="#000"/><rect x="881.8" y="1535.5" width="14.0" height="14.0" fill="#000"/><rect x="909.9" y="1536.9" width="14.0" height="14.0" fill="#000"/><rect x="938.0" y="1538.3" width="14.0" height="14.0" fill="#000"/><rect x="966.2" y="1539.7" width="14.0" height="14.0" fill="#000"/><rect x="994.3" y="1541.1" width="14.0" height="14.0" fill="#000"/><rect x="1022.5" y="1542.2" width="14.0" height="14.0" fill="#000"/><rect x="1050.6" y="1543.3" width="14.0" height="14.0" fill="#000"/><rect x="1078.7" y="1544.4" width="14.0" height="14.0" fill="#000"/><rect x="1106.9" y="1545.5" width="14.0" height="14.0" fill="#000"/><rect x="1135.0" y="1546.6" width="14.0" height="14.0" fill="#000"/><rect x="151.5" y="1147.1" width="11.4" height="11.4" fill="none" stroke="#474747" stroke-width="3.6"/><rect x="157.1" y="1092.3" width="11.4" height="11.4" fill="none" stroke="#474747" stroke-width="3.6"/><rect x="162.8" y="1051.8" width="11.4" height="11.4" fill="none" stroke="#474747" stroke-width="3.6"/><rect x="168.4" y="1028.8" width="11.4" height="11.4" fill="none" stroke="#474747" stroke-width="3.6"/><rect x="174.0" y="1016.9" width="11.4" height="11.4" fill="none" stroke="#474747" stroke-width="3.6"/><rect x="179.6" y="1020.8" width="11.4" height="11.4" fill="none" stroke="#474747" stroke-width="3.6"/><rect x="185.3" y="1046.2" width="11.4" height="11.4" fill="none" stroke="#474747" stroke-width="3.6"/><rect x="190.9" y="1096.3" width="11.4" height="11.4" fill="none" stroke="#474747" stroke-width="3.6"/><rect x="196.5" y="1147.1" width="11.4" height="11.4" fill="none" stroke="#474747" stroke-width="3.6"/><rect x="202.1" y="1189.1" width="11.4" height="11.4" fill="none" stroke="#474747" stroke-width="3.6"/><rect x="207.8" y="1215.3" width="11.4" height="11.4" fill="none" stroke="#474747" stroke-width="3.6"/><rect x="213.4" y="1236.8" width="11.4" height="11.4" fill="none" stroke="#474747" stroke-width="3.6"/><rect x="219.0" y="1255.0" width="11.4" height="11.4" fill="none" stroke="#474747" stroke-width="3.6"/><rect x="224.7" y="1270.9" width="11.4" height="11.4" fill="none" stroke="#474747" stroke-width="3.6"/><rect x="235.9" y="1291.8" width="11.4" height="11.4" fill="none" stroke="#474747" stroke-width="3.6"/><rect x="250.0" y="1313.8" width="11.4" height="11.4" fill="none" stroke="#474747" stroke-width="3.6"/><rect x="264.1" y="1336.4" width="11.4" height="11.4" fill="none" stroke="#474747" stroke-width="3.6"/><rect x="278.1" y="1351.1" width="11.4" height="11.4" fill="none" stroke="#474747" stroke-width="3.6"/><rect x="292.2" y="1370.1" width="11.4" height="11.4" fill="none" stroke="#474747" stroke-width="3.6"/></g><circle cx="734.5" cy="1011.0" r="6" fill="#000"/><text transform="translate(757,1025) scale(0.95,1)" fill="#1a1a1a" stroke="#1a1a1a" stroke-width="1.1" style="font-family:&quot;Liberation Sans&quot;,sans-serif;font-size:42px">-0.65 V</text><circle cx="995.0" cy="1011.0" r="5.0" fill="none" stroke="#262626" stroke-width="3.2"/><text transform="translate(1018,1025) scale(0.95,1)" fill="#1a1a1a" stroke="#1a1a1a" stroke-width="1.1" style="font-family:&quot;Liberation Sans&quot;,sans-serif;font-size:42px">-0.675 V</text><path d="M730.0 1065.5L739.0 1074.5M739.0 1065.5L730.0 1074.5" stroke="#303030" stroke-width="2.8" fill="none"/><text transform="translate(757,1084.5) scale(0.95,1)" fill="#1a1a1a" stroke="#1a1a1a" stroke-width="1.1" style="font-family:&quot;Liberation Sans&quot;,sans-serif;font-size:42px">-0.7 V</text><path d="M995.0 1062.8L1002.0 1075.8L988.0 1075.8Z" fill="#000"/><text transform="translate(1018,1084.5) scale(0.95,1)" fill="#1a1a1a" stroke="#1a1a1a" stroke-width="1.1" style="font-family:&quot;Liberation Sans&quot;,sans-serif;font-size:42px">-0.725 V</text><path d="M734.5 1123.5L740.0 1133.5L729.0 1133.5Z" fill="none" stroke="#474747" stroke-width="2.8" stroke-linejoin="round"/><text transform="translate(757,1144) scale(0.95,1)" fill="#1a1a1a" stroke="#1a1a1a" stroke-width="1.1" style="font-family:&quot;Liberation Sans&quot;,sans-serif;font-size:42px">-0.75 V</text><rect x="989.0" y="1122.5" width="12" height="13" fill="#000"/><text transform="translate(1018,1144) scale(0.95,1)" fill="#1a1a1a" stroke="#1a1a1a" stroke-width="1.1" style="font-family:&quot;Liberation Sans&quot;,sans-serif;font-size:42px">-0.775 V</text><rect x="729.8" y="1183.0" width="9.5" height="10" fill="none" stroke="#474747" stroke-width="3.0"/><text transform="translate(757,1202) scale(0.95,1)" fill="#1a1a1a" stroke="#1a1a1a" stroke-width="1.1" style="font-family:&quot;Liberation Sans&quot;,sans-serif;font-size:42px">-0.8 V</text><text x="237" y="996" style="font-family:&quot;Liberation Serif&quot;,serif;font-size:53px">(b)</text><text x="720" y="1788.5" text-anchor="middle" style="font-family:&quot;Liberation Sans&quot;,sans-serif;font-size:43px;font-weight:bold">time (sec)</text><text transform="translate(45,1307.5) rotate(-90)" text-anchor="middle" style="font-family:&quot;Liberation Sans&quot;,sans-serif;font-size:43px;font-weight:bold">i (-mA/cm<tspan dy="-21" font-size="25">2</tspan><tspan dy="21">)</tspan></text></svg>
</body></html>
